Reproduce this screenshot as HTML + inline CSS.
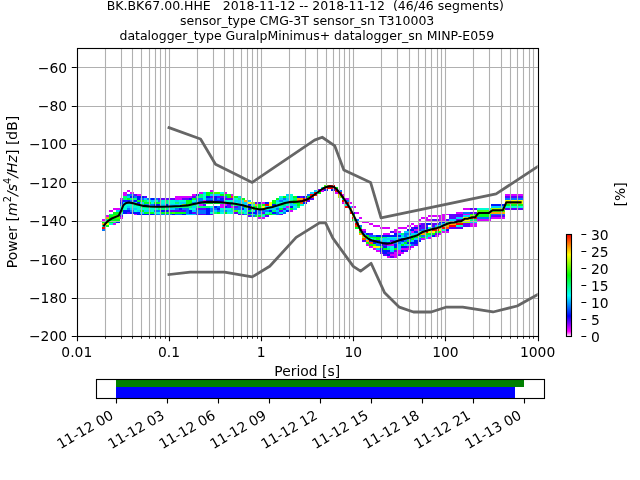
<!DOCTYPE html><html><head><meta charset="utf-8"><title>PPSD BK.BK67.00.HHE</title>
<style>html,body{margin:0;padding:0;background:#fff;overflow:hidden}svg{display:block}text{font-family:"DejaVu Sans","Liberation Sans",sans-serif;fill:#000}</style></head><body>
<svg width="640" height="480" viewBox="0 0 640 480">
<rect width="640" height="480" fill="#fff"/>
<g shape-rendering="crispEdges">
<rect x="102.30" y="219.28" width="3.52" height="1.97" fill="#d900ff"/>
<rect x="102.30" y="221.20" width="3.52" height="1.97" fill="#00ff1a"/>
<rect x="102.30" y="223.12" width="3.52" height="1.97" fill="#ffa600"/>
<rect x="102.30" y="225.04" width="3.52" height="1.97" fill="#00ffd3"/>
<rect x="102.30" y="226.96" width="3.52" height="1.97" fill="#ff0000"/>
<rect x="102.30" y="228.88" width="3.52" height="1.97" fill="#0073ff"/>
<rect x="105.77" y="215.44" width="3.52" height="1.97" fill="#d900ff"/>
<rect x="105.77" y="217.36" width="3.52" height="1.97" fill="#ffa600"/>
<rect x="105.77" y="219.28" width="3.52" height="1.97" fill="#00ff76"/>
<rect x="105.77" y="221.20" width="3.52" height="1.97" fill="#00ff1a"/>
<rect x="105.77" y="223.12" width="3.52" height="1.97" fill="#fbff00"/>
<rect x="105.77" y="225.04" width="3.52" height="1.97" fill="#00ff1a"/>
<rect x="109.24" y="209.68" width="3.52" height="1.97" fill="#d900ff"/>
<rect x="109.24" y="211.60" width="3.52" height="1.97" fill="#ffffff"/>
<rect x="109.24" y="213.52" width="3.52" height="1.97" fill="#00ff76"/>
<rect x="109.24" y="215.44" width="3.52" height="1.97" fill="#00ff1a"/>
<rect x="109.24" y="217.36" width="3.52" height="1.97" fill="#00ff1a"/>
<rect x="109.24" y="219.28" width="3.52" height="1.97" fill="#00ff1a"/>
<rect x="109.24" y="221.20" width="3.52" height="1.97" fill="#00ff1a"/>
<rect x="109.24" y="223.12" width="3.52" height="1.97" fill="#00ffd3"/>
<rect x="112.70" y="207.76" width="3.52" height="1.97" fill="#d900ff"/>
<rect x="112.70" y="209.68" width="3.52" height="1.97" fill="#ffffff"/>
<rect x="112.70" y="211.60" width="3.52" height="1.97" fill="#00ff1a"/>
<rect x="112.70" y="213.52" width="3.52" height="1.97" fill="#00ff1a"/>
<rect x="112.70" y="215.44" width="3.52" height="1.97" fill="#43ff00"/>
<rect x="112.70" y="217.36" width="3.52" height="1.97" fill="#00ff1a"/>
<rect x="112.70" y="219.28" width="3.52" height="1.97" fill="#00ff1a"/>
<rect x="112.70" y="221.20" width="3.52" height="1.97" fill="#00ff76"/>
<rect x="112.70" y="223.12" width="3.52" height="1.97" fill="#d900ff"/>
<rect x="116.17" y="207.76" width="3.52" height="1.97" fill="#d900ff"/>
<rect x="116.17" y="209.68" width="3.52" height="1.97" fill="#00cfff"/>
<rect x="116.17" y="211.60" width="3.52" height="1.97" fill="#00ff1a"/>
<rect x="116.17" y="213.52" width="3.52" height="1.97" fill="#00ff1a"/>
<rect x="116.17" y="215.44" width="3.52" height="1.97" fill="#43ff00"/>
<rect x="116.17" y="217.36" width="3.52" height="1.97" fill="#43ff00"/>
<rect x="116.17" y="219.28" width="3.52" height="1.97" fill="#00ff1a"/>
<rect x="116.17" y="221.20" width="3.52" height="1.97" fill="#0016ff"/>
<rect x="119.64" y="198.16" width="3.52" height="1.97" fill="#d900ff"/>
<rect x="119.64" y="200.08" width="3.52" height="1.97" fill="#5e00ff"/>
<rect x="119.64" y="202.00" width="3.52" height="1.97" fill="#0016ff"/>
<rect x="119.64" y="203.92" width="3.52" height="1.97" fill="#0073ff"/>
<rect x="119.64" y="205.84" width="3.52" height="1.97" fill="#00ffd3"/>
<rect x="119.64" y="207.76" width="3.52" height="1.97" fill="#00ffd3"/>
<rect x="119.64" y="209.68" width="3.52" height="1.97" fill="#00ff1a"/>
<rect x="119.64" y="211.60" width="3.52" height="1.97" fill="#00ffd3"/>
<rect x="119.64" y="213.52" width="3.52" height="1.97" fill="#00cfff"/>
<rect x="119.64" y="215.44" width="3.52" height="1.97" fill="#5e00ff"/>
<rect x="119.64" y="217.36" width="3.52" height="1.97" fill="#d900ff"/>
<rect x="123.11" y="192.40" width="3.52" height="1.97" fill="#d900ff"/>
<rect x="123.11" y="194.32" width="3.52" height="1.97" fill="#d900ff"/>
<rect x="123.11" y="196.24" width="3.52" height="1.97" fill="#00ff76"/>
<rect x="123.11" y="198.16" width="3.52" height="1.97" fill="#00ff76"/>
<rect x="123.11" y="200.08" width="3.52" height="1.97" fill="#0016ff"/>
<rect x="123.11" y="202.00" width="3.52" height="1.97" fill="#00cfff"/>
<rect x="123.11" y="203.92" width="3.52" height="1.97" fill="#00ffd3"/>
<rect x="123.11" y="205.84" width="3.52" height="1.97" fill="#00ffd3"/>
<rect x="123.11" y="207.76" width="3.52" height="1.97" fill="#00ffd3"/>
<rect x="123.11" y="209.68" width="3.52" height="1.97" fill="#0016ff"/>
<rect x="123.11" y="211.60" width="3.52" height="1.97" fill="#0016ff"/>
<rect x="126.58" y="190.48" width="3.52" height="1.97" fill="#d900ff"/>
<rect x="126.58" y="192.40" width="3.52" height="1.97" fill="#ffffff"/>
<rect x="126.58" y="194.32" width="3.52" height="1.97" fill="#0073ff"/>
<rect x="126.58" y="196.24" width="3.52" height="1.97" fill="#00cfff"/>
<rect x="126.58" y="198.16" width="3.52" height="1.97" fill="#00ff1a"/>
<rect x="126.58" y="200.08" width="3.52" height="1.97" fill="#0016ff"/>
<rect x="126.58" y="202.00" width="3.52" height="1.97" fill="#00ffd3"/>
<rect x="126.58" y="203.92" width="3.52" height="1.97" fill="#00ffd3"/>
<rect x="126.58" y="205.84" width="3.52" height="1.97" fill="#00cfff"/>
<rect x="126.58" y="207.76" width="3.52" height="1.97" fill="#0073ff"/>
<rect x="126.58" y="209.68" width="3.52" height="1.97" fill="#0016ff"/>
<rect x="126.58" y="211.60" width="3.52" height="1.97" fill="#5e00ff"/>
<rect x="130.04" y="192.40" width="3.52" height="1.97" fill="#d900ff"/>
<rect x="130.04" y="194.32" width="3.52" height="1.97" fill="#0073ff"/>
<rect x="130.04" y="196.24" width="3.52" height="1.97" fill="#0016ff"/>
<rect x="130.04" y="198.16" width="3.52" height="1.97" fill="#00ff76"/>
<rect x="130.04" y="200.08" width="3.52" height="1.97" fill="#0073ff"/>
<rect x="130.04" y="202.00" width="3.52" height="1.97" fill="#00ffd3"/>
<rect x="130.04" y="203.92" width="3.52" height="1.97" fill="#00ffd3"/>
<rect x="130.04" y="205.84" width="3.52" height="1.97" fill="#00ffd3"/>
<rect x="130.04" y="207.76" width="3.52" height="1.97" fill="#00cfff"/>
<rect x="130.04" y="209.68" width="3.52" height="1.97" fill="#0073ff"/>
<rect x="130.04" y="211.60" width="3.52" height="1.97" fill="#0016ff"/>
<rect x="133.51" y="194.32" width="3.52" height="1.97" fill="#5e00ff"/>
<rect x="133.51" y="196.24" width="3.52" height="1.97" fill="#0073ff"/>
<rect x="133.51" y="198.16" width="3.52" height="1.97" fill="#00ff76"/>
<rect x="133.51" y="200.08" width="3.52" height="1.97" fill="#0016ff"/>
<rect x="133.51" y="202.00" width="3.52" height="1.97" fill="#00ffd3"/>
<rect x="133.51" y="203.92" width="3.52" height="1.97" fill="#00ff76"/>
<rect x="133.51" y="205.84" width="3.52" height="1.97" fill="#00ffd3"/>
<rect x="133.51" y="207.76" width="3.52" height="1.97" fill="#00cfff"/>
<rect x="133.51" y="209.68" width="3.52" height="1.97" fill="#00ffd3"/>
<rect x="133.51" y="211.60" width="3.52" height="1.97" fill="#0016ff"/>
<rect x="133.51" y="213.52" width="3.52" height="1.97" fill="#d900ff"/>
<rect x="136.98" y="194.32" width="3.52" height="1.97" fill="#d900ff"/>
<rect x="136.98" y="196.24" width="3.52" height="1.97" fill="#0016ff"/>
<rect x="136.98" y="198.16" width="3.52" height="1.97" fill="#0016ff"/>
<rect x="136.98" y="200.08" width="3.52" height="1.97" fill="#00ff1a"/>
<rect x="136.98" y="202.00" width="3.52" height="1.97" fill="#0016ff"/>
<rect x="136.98" y="203.92" width="3.52" height="1.97" fill="#00ff76"/>
<rect x="136.98" y="205.84" width="3.52" height="1.97" fill="#00ffd3"/>
<rect x="136.98" y="207.76" width="3.52" height="1.97" fill="#00ffd3"/>
<rect x="136.98" y="209.68" width="3.52" height="1.97" fill="#00cfff"/>
<rect x="136.98" y="211.60" width="3.52" height="1.97" fill="#0016ff"/>
<rect x="136.98" y="213.52" width="3.52" height="1.97" fill="#0016ff"/>
<rect x="140.45" y="196.24" width="3.52" height="1.97" fill="#0016ff"/>
<rect x="140.45" y="198.16" width="3.52" height="1.97" fill="#0073ff"/>
<rect x="140.45" y="200.08" width="3.52" height="1.97" fill="#00ff1a"/>
<rect x="140.45" y="202.00" width="3.52" height="1.97" fill="#00cfff"/>
<rect x="140.45" y="203.92" width="3.52" height="1.97" fill="#00ff76"/>
<rect x="140.45" y="205.84" width="3.52" height="1.97" fill="#00ff76"/>
<rect x="140.45" y="207.76" width="3.52" height="1.97" fill="#00ffd3"/>
<rect x="140.45" y="209.68" width="3.52" height="1.97" fill="#00ff1a"/>
<rect x="140.45" y="211.60" width="3.52" height="1.97" fill="#00cfff"/>
<rect x="140.45" y="213.52" width="3.52" height="1.97" fill="#0016ff"/>
<rect x="143.92" y="196.24" width="3.52" height="1.97" fill="#5e00ff"/>
<rect x="143.92" y="198.16" width="3.52" height="1.97" fill="#00cfff"/>
<rect x="143.92" y="200.08" width="3.52" height="1.97" fill="#00ff76"/>
<rect x="143.92" y="202.00" width="3.52" height="1.97" fill="#00ff1a"/>
<rect x="143.92" y="203.92" width="3.52" height="1.97" fill="#0073ff"/>
<rect x="143.92" y="205.84" width="3.52" height="1.97" fill="#00ff76"/>
<rect x="143.92" y="207.76" width="3.52" height="1.97" fill="#00ffd3"/>
<rect x="143.92" y="209.68" width="3.52" height="1.97" fill="#00cfff"/>
<rect x="143.92" y="211.60" width="3.52" height="1.97" fill="#00ff1a"/>
<rect x="143.92" y="213.52" width="3.52" height="1.97" fill="#0016ff"/>
<rect x="147.38" y="198.16" width="3.52" height="1.97" fill="#0073ff"/>
<rect x="147.38" y="200.08" width="3.52" height="1.97" fill="#00ffd3"/>
<rect x="147.38" y="202.00" width="3.52" height="1.97" fill="#00ff1a"/>
<rect x="147.38" y="203.92" width="3.52" height="1.97" fill="#0073ff"/>
<rect x="147.38" y="205.84" width="3.52" height="1.97" fill="#00ff76"/>
<rect x="147.38" y="207.76" width="3.52" height="1.97" fill="#00ffd3"/>
<rect x="147.38" y="209.68" width="3.52" height="1.97" fill="#00cfff"/>
<rect x="147.38" y="211.60" width="3.52" height="1.97" fill="#00ff1a"/>
<rect x="147.38" y="213.52" width="3.52" height="1.97" fill="#0016ff"/>
<rect x="150.85" y="198.16" width="3.52" height="1.97" fill="#0016ff"/>
<rect x="150.85" y="200.08" width="3.52" height="1.97" fill="#00cfff"/>
<rect x="150.85" y="202.00" width="3.52" height="1.97" fill="#00ffd3"/>
<rect x="150.85" y="203.92" width="3.52" height="1.97" fill="#0073ff"/>
<rect x="150.85" y="205.84" width="3.52" height="1.97" fill="#00ff76"/>
<rect x="150.85" y="207.76" width="3.52" height="1.97" fill="#00ffd3"/>
<rect x="150.85" y="209.68" width="3.52" height="1.97" fill="#00ffd3"/>
<rect x="150.85" y="211.60" width="3.52" height="1.97" fill="#00ff1a"/>
<rect x="150.85" y="213.52" width="3.52" height="1.97" fill="#0016ff"/>
<rect x="154.32" y="198.16" width="3.52" height="1.97" fill="#0073ff"/>
<rect x="154.32" y="200.08" width="3.52" height="1.97" fill="#00ffd3"/>
<rect x="154.32" y="202.00" width="3.52" height="1.97" fill="#00ff1a"/>
<rect x="154.32" y="203.92" width="3.52" height="1.97" fill="#0016ff"/>
<rect x="154.32" y="205.84" width="3.52" height="1.97" fill="#00ff76"/>
<rect x="154.32" y="207.76" width="3.52" height="1.97" fill="#00ffd3"/>
<rect x="154.32" y="209.68" width="3.52" height="1.97" fill="#0073ff"/>
<rect x="154.32" y="211.60" width="3.52" height="1.97" fill="#00ffd3"/>
<rect x="154.32" y="213.52" width="3.52" height="1.97" fill="#0073ff"/>
<rect x="157.79" y="198.16" width="3.52" height="1.97" fill="#5e00ff"/>
<rect x="157.79" y="200.08" width="3.52" height="1.97" fill="#0073ff"/>
<rect x="157.79" y="202.00" width="3.52" height="1.97" fill="#00ff1a"/>
<rect x="157.79" y="203.92" width="3.52" height="1.97" fill="#0016ff"/>
<rect x="157.79" y="205.84" width="3.52" height="1.97" fill="#00ff76"/>
<rect x="157.79" y="207.76" width="3.52" height="1.97" fill="#00ff76"/>
<rect x="157.79" y="209.68" width="3.52" height="1.97" fill="#0073ff"/>
<rect x="157.79" y="211.60" width="3.52" height="1.97" fill="#00ffd3"/>
<rect x="157.79" y="213.52" width="3.52" height="1.97" fill="#0073ff"/>
<rect x="161.26" y="198.16" width="3.52" height="1.97" fill="#5e00ff"/>
<rect x="161.26" y="200.08" width="3.52" height="1.97" fill="#00ffd3"/>
<rect x="161.26" y="202.00" width="3.52" height="1.97" fill="#00ffd3"/>
<rect x="161.26" y="203.92" width="3.52" height="1.97" fill="#00cfff"/>
<rect x="161.26" y="205.84" width="3.52" height="1.97" fill="#00ff76"/>
<rect x="161.26" y="207.76" width="3.52" height="1.97" fill="#00ff76"/>
<rect x="161.26" y="209.68" width="3.52" height="1.97" fill="#0016ff"/>
<rect x="161.26" y="211.60" width="3.52" height="1.97" fill="#00ff1a"/>
<rect x="161.26" y="213.52" width="3.52" height="1.97" fill="#0073ff"/>
<rect x="164.72" y="198.16" width="3.52" height="1.97" fill="#5e00ff"/>
<rect x="164.72" y="200.08" width="3.52" height="1.97" fill="#00ff76"/>
<rect x="164.72" y="202.00" width="3.52" height="1.97" fill="#00ff76"/>
<rect x="164.72" y="203.92" width="3.52" height="1.97" fill="#0016ff"/>
<rect x="164.72" y="205.84" width="3.52" height="1.97" fill="#00ff76"/>
<rect x="164.72" y="207.76" width="3.52" height="1.97" fill="#00ff76"/>
<rect x="164.72" y="209.68" width="3.52" height="1.97" fill="#0016ff"/>
<rect x="164.72" y="211.60" width="3.52" height="1.97" fill="#00ff1a"/>
<rect x="164.72" y="213.52" width="3.52" height="1.97" fill="#0073ff"/>
<rect x="168.19" y="198.16" width="3.52" height="1.97" fill="#5e00ff"/>
<rect x="168.19" y="200.08" width="3.52" height="1.97" fill="#00ffd3"/>
<rect x="168.19" y="202.00" width="3.52" height="1.97" fill="#00ffd3"/>
<rect x="168.19" y="203.92" width="3.52" height="1.97" fill="#00cfff"/>
<rect x="168.19" y="205.84" width="3.52" height="1.97" fill="#00ff76"/>
<rect x="168.19" y="207.76" width="3.52" height="1.97" fill="#00cfff"/>
<rect x="168.19" y="209.68" width="3.52" height="1.97" fill="#5e00ff"/>
<rect x="168.19" y="211.60" width="3.52" height="1.97" fill="#00ff1a"/>
<rect x="168.19" y="213.52" width="3.52" height="1.97" fill="#0073ff"/>
<rect x="171.66" y="198.16" width="3.52" height="1.97" fill="#5e00ff"/>
<rect x="171.66" y="200.08" width="3.52" height="1.97" fill="#00ffd3"/>
<rect x="171.66" y="202.00" width="3.52" height="1.97" fill="#00ffd3"/>
<rect x="171.66" y="203.92" width="3.52" height="1.97" fill="#00cfff"/>
<rect x="171.66" y="205.84" width="3.52" height="1.97" fill="#00ff76"/>
<rect x="171.66" y="207.76" width="3.52" height="1.97" fill="#00cfff"/>
<rect x="171.66" y="209.68" width="3.52" height="1.97" fill="#5e00ff"/>
<rect x="171.66" y="211.60" width="3.52" height="1.97" fill="#43ff00"/>
<rect x="171.66" y="213.52" width="3.52" height="1.97" fill="#0016ff"/>
<rect x="175.13" y="196.24" width="3.52" height="1.97" fill="#d900ff"/>
<rect x="175.13" y="198.16" width="3.52" height="1.97" fill="#d900ff"/>
<rect x="175.13" y="200.08" width="3.52" height="1.97" fill="#00cfff"/>
<rect x="175.13" y="202.00" width="3.52" height="1.97" fill="#00ff76"/>
<rect x="175.13" y="203.92" width="3.52" height="1.97" fill="#00cfff"/>
<rect x="175.13" y="205.84" width="3.52" height="1.97" fill="#00ff76"/>
<rect x="175.13" y="207.76" width="3.52" height="1.97" fill="#0073ff"/>
<rect x="175.13" y="209.68" width="3.52" height="1.97" fill="#5e00ff"/>
<rect x="175.13" y="211.60" width="3.52" height="1.97" fill="#00ff1a"/>
<rect x="175.13" y="213.52" width="3.52" height="1.97" fill="#0073ff"/>
<rect x="178.60" y="196.24" width="3.52" height="1.97" fill="#d900ff"/>
<rect x="178.60" y="198.16" width="3.52" height="1.97" fill="#d900ff"/>
<rect x="178.60" y="200.08" width="3.52" height="1.97" fill="#00ffd3"/>
<rect x="178.60" y="202.00" width="3.52" height="1.97" fill="#00cfff"/>
<rect x="178.60" y="203.92" width="3.52" height="1.97" fill="#00ffd3"/>
<rect x="178.60" y="205.84" width="3.52" height="1.97" fill="#00ff76"/>
<rect x="178.60" y="207.76" width="3.52" height="1.97" fill="#0016ff"/>
<rect x="178.60" y="209.68" width="3.52" height="1.97" fill="#5e00ff"/>
<rect x="178.60" y="211.60" width="3.52" height="1.97" fill="#00ff1a"/>
<rect x="178.60" y="213.52" width="3.52" height="1.97" fill="#0073ff"/>
<rect x="182.06" y="196.24" width="3.52" height="1.97" fill="#d900ff"/>
<rect x="182.06" y="198.16" width="3.52" height="1.97" fill="#5e00ff"/>
<rect x="182.06" y="200.08" width="3.52" height="1.97" fill="#00ffd3"/>
<rect x="182.06" y="202.00" width="3.52" height="1.97" fill="#00cfff"/>
<rect x="182.06" y="203.92" width="3.52" height="1.97" fill="#9fff00"/>
<rect x="182.06" y="205.84" width="3.52" height="1.97" fill="#00ff76"/>
<rect x="182.06" y="207.76" width="3.52" height="1.97" fill="#0073ff"/>
<rect x="182.06" y="209.68" width="3.52" height="1.97" fill="#5e00ff"/>
<rect x="182.06" y="211.60" width="3.52" height="1.97" fill="#00ff1a"/>
<rect x="182.06" y="213.52" width="3.52" height="1.97" fill="#0016ff"/>
<rect x="185.53" y="196.24" width="3.52" height="1.97" fill="#d900ff"/>
<rect x="185.53" y="198.16" width="3.52" height="1.97" fill="#5e00ff"/>
<rect x="185.53" y="200.08" width="3.52" height="1.97" fill="#00ff1a"/>
<rect x="185.53" y="202.00" width="3.52" height="1.97" fill="#00ff1a"/>
<rect x="185.53" y="203.92" width="3.52" height="1.97" fill="#00ff1a"/>
<rect x="185.53" y="205.84" width="3.52" height="1.97" fill="#00ff76"/>
<rect x="185.53" y="207.76" width="3.52" height="1.97" fill="#0073ff"/>
<rect x="185.53" y="209.68" width="3.52" height="1.97" fill="#0073ff"/>
<rect x="185.53" y="211.60" width="3.52" height="1.97" fill="#0073ff"/>
<rect x="185.53" y="213.52" width="3.52" height="1.97" fill="#00cfff"/>
<rect x="189.00" y="196.24" width="3.52" height="1.97" fill="#d900ff"/>
<rect x="189.00" y="198.16" width="3.52" height="1.97" fill="#0016ff"/>
<rect x="189.00" y="200.08" width="3.52" height="1.97" fill="#00ff1a"/>
<rect x="189.00" y="202.00" width="3.52" height="1.97" fill="#00ff1a"/>
<rect x="189.00" y="203.92" width="3.52" height="1.97" fill="#00ff76"/>
<rect x="189.00" y="205.84" width="3.52" height="1.97" fill="#00ff76"/>
<rect x="189.00" y="207.76" width="3.52" height="1.97" fill="#00ffd3"/>
<rect x="189.00" y="209.68" width="3.52" height="1.97" fill="#0016ff"/>
<rect x="189.00" y="211.60" width="3.52" height="1.97" fill="#0016ff"/>
<rect x="189.00" y="213.52" width="3.52" height="1.97" fill="#00cfff"/>
<rect x="192.47" y="194.32" width="3.52" height="1.97" fill="#d900ff"/>
<rect x="192.47" y="196.24" width="3.52" height="1.97" fill="#5e00ff"/>
<rect x="192.47" y="198.16" width="3.52" height="1.97" fill="#00ff1a"/>
<rect x="192.47" y="200.08" width="3.52" height="1.97" fill="#00ffd3"/>
<rect x="192.47" y="202.00" width="3.52" height="1.97" fill="#0073ff"/>
<rect x="192.47" y="203.92" width="3.52" height="1.97" fill="#00ff76"/>
<rect x="192.47" y="205.84" width="3.52" height="1.97" fill="#00cfff"/>
<rect x="192.47" y="207.76" width="3.52" height="1.97" fill="#00ffd3"/>
<rect x="192.47" y="209.68" width="3.52" height="1.97" fill="#00cfff"/>
<rect x="192.47" y="211.60" width="3.52" height="1.97" fill="#5e00ff"/>
<rect x="192.47" y="213.52" width="3.52" height="1.97" fill="#00cfff"/>
<rect x="195.94" y="194.32" width="3.52" height="1.97" fill="#0016ff"/>
<rect x="195.94" y="196.24" width="3.52" height="1.97" fill="#00ff76"/>
<rect x="195.94" y="198.16" width="3.52" height="1.97" fill="#0073ff"/>
<rect x="195.94" y="200.08" width="3.52" height="1.97" fill="#0073ff"/>
<rect x="195.94" y="202.00" width="3.52" height="1.97" fill="#00ffd3"/>
<rect x="195.94" y="203.92" width="3.52" height="1.97" fill="#00ffd3"/>
<rect x="195.94" y="205.84" width="3.52" height="1.97" fill="#00ff76"/>
<rect x="195.94" y="207.76" width="3.52" height="1.97" fill="#5e00ff"/>
<rect x="195.94" y="209.68" width="3.52" height="1.97" fill="#0073ff"/>
<rect x="195.94" y="211.60" width="3.52" height="1.97" fill="#0073ff"/>
<rect x="195.94" y="213.52" width="3.52" height="1.97" fill="#5e00ff"/>
<rect x="199.40" y="192.40" width="3.52" height="1.97" fill="#d900ff"/>
<rect x="199.40" y="194.32" width="3.52" height="1.97" fill="#00ff76"/>
<rect x="199.40" y="196.24" width="3.52" height="1.97" fill="#00ff76"/>
<rect x="199.40" y="198.16" width="3.52" height="1.97" fill="#0073ff"/>
<rect x="199.40" y="200.08" width="3.52" height="1.97" fill="#0073ff"/>
<rect x="199.40" y="202.00" width="3.52" height="1.97" fill="#00ffd3"/>
<rect x="199.40" y="203.92" width="3.52" height="1.97" fill="#d900ff"/>
<rect x="199.40" y="205.84" width="3.52" height="1.97" fill="#00ff76"/>
<rect x="199.40" y="207.76" width="3.52" height="1.97" fill="#5e00ff"/>
<rect x="199.40" y="209.68" width="3.52" height="1.97" fill="#0073ff"/>
<rect x="199.40" y="211.60" width="3.52" height="1.97" fill="#0073ff"/>
<rect x="199.40" y="213.52" width="3.52" height="1.97" fill="#5e00ff"/>
<rect x="202.87" y="192.40" width="3.52" height="1.97" fill="#00cfff"/>
<rect x="202.87" y="194.32" width="3.52" height="1.97" fill="#00ffd3"/>
<rect x="202.87" y="196.24" width="3.52" height="1.97" fill="#00ffd3"/>
<rect x="202.87" y="198.16" width="3.52" height="1.97" fill="#00ffd3"/>
<rect x="202.87" y="200.08" width="3.52" height="1.97" fill="#d900ff"/>
<rect x="202.87" y="202.00" width="3.52" height="1.97" fill="#00ff76"/>
<rect x="202.87" y="203.92" width="3.52" height="1.97" fill="#5e00ff"/>
<rect x="202.87" y="205.84" width="3.52" height="1.97" fill="#00ff76"/>
<rect x="202.87" y="207.76" width="3.52" height="1.97" fill="#5e00ff"/>
<rect x="202.87" y="209.68" width="3.52" height="1.97" fill="#0073ff"/>
<rect x="202.87" y="211.60" width="3.52" height="1.97" fill="#0073ff"/>
<rect x="202.87" y="213.52" width="3.52" height="1.97" fill="#5e00ff"/>
<rect x="206.34" y="192.40" width="3.52" height="1.97" fill="#00ff1a"/>
<rect x="206.34" y="194.32" width="3.52" height="1.97" fill="#00ff1a"/>
<rect x="206.34" y="196.24" width="3.52" height="1.97" fill="#0016ff"/>
<rect x="206.34" y="198.16" width="3.52" height="1.97" fill="#0073ff"/>
<rect x="206.34" y="200.08" width="3.52" height="1.97" fill="#0016ff"/>
<rect x="206.34" y="202.00" width="3.52" height="1.97" fill="#00ff1a"/>
<rect x="206.34" y="203.92" width="3.52" height="1.97" fill="#ffffff"/>
<rect x="206.34" y="205.84" width="3.52" height="1.97" fill="#00ff76"/>
<rect x="206.34" y="207.76" width="3.52" height="1.97" fill="#0016ff"/>
<rect x="206.34" y="209.68" width="3.52" height="1.97" fill="#0016ff"/>
<rect x="206.34" y="211.60" width="3.52" height="1.97" fill="#0016ff"/>
<rect x="206.34" y="213.52" width="3.52" height="1.97" fill="#0016ff"/>
<rect x="209.81" y="190.48" width="3.52" height="1.97" fill="#d900ff"/>
<rect x="209.81" y="192.40" width="3.52" height="1.97" fill="#00ff1a"/>
<rect x="209.81" y="194.32" width="3.52" height="1.97" fill="#00cfff"/>
<rect x="209.81" y="196.24" width="3.52" height="1.97" fill="#5e00ff"/>
<rect x="209.81" y="198.16" width="3.52" height="1.97" fill="#0073ff"/>
<rect x="209.81" y="200.08" width="3.52" height="1.97" fill="#0016ff"/>
<rect x="209.81" y="202.00" width="3.52" height="1.97" fill="#00ff1a"/>
<rect x="209.81" y="203.92" width="3.52" height="1.97" fill="#ffffff"/>
<rect x="209.81" y="205.84" width="3.52" height="1.97" fill="#00ffd3"/>
<rect x="209.81" y="207.76" width="3.52" height="1.97" fill="#0073ff"/>
<rect x="209.81" y="209.68" width="3.52" height="1.97" fill="#0073ff"/>
<rect x="209.81" y="211.60" width="3.52" height="1.97" fill="#00ffd3"/>
<rect x="209.81" y="213.52" width="3.52" height="1.97" fill="#5e00ff"/>
<rect x="213.28" y="192.40" width="3.52" height="1.97" fill="#43ff00"/>
<rect x="213.28" y="194.32" width="3.52" height="1.97" fill="#00cfff"/>
<rect x="213.28" y="196.24" width="3.52" height="1.97" fill="#0016ff"/>
<rect x="213.28" y="198.16" width="3.52" height="1.97" fill="#0016ff"/>
<rect x="213.28" y="200.08" width="3.52" height="1.97" fill="#0016ff"/>
<rect x="213.28" y="202.00" width="3.52" height="1.97" fill="#00ff1a"/>
<rect x="213.28" y="203.92" width="3.52" height="1.97" fill="#ffffff"/>
<rect x="213.28" y="205.84" width="3.52" height="1.97" fill="#0016ff"/>
<rect x="213.28" y="207.76" width="3.52" height="1.97" fill="#0073ff"/>
<rect x="213.28" y="209.68" width="3.52" height="1.97" fill="#00cfff"/>
<rect x="213.28" y="211.60" width="3.52" height="1.97" fill="#00ff76"/>
<rect x="216.74" y="192.40" width="3.52" height="1.97" fill="#43ff00"/>
<rect x="216.74" y="194.32" width="3.52" height="1.97" fill="#00cfff"/>
<rect x="216.74" y="196.24" width="3.52" height="1.97" fill="#5e00ff"/>
<rect x="216.74" y="198.16" width="3.52" height="1.97" fill="#0073ff"/>
<rect x="216.74" y="200.08" width="3.52" height="1.97" fill="#0016ff"/>
<rect x="216.74" y="202.00" width="3.52" height="1.97" fill="#00ff1a"/>
<rect x="216.74" y="203.92" width="3.52" height="1.97" fill="#ffffff"/>
<rect x="216.74" y="205.84" width="3.52" height="1.97" fill="#0073ff"/>
<rect x="216.74" y="207.76" width="3.52" height="1.97" fill="#0016ff"/>
<rect x="216.74" y="209.68" width="3.52" height="1.97" fill="#0073ff"/>
<rect x="216.74" y="211.60" width="3.52" height="1.97" fill="#00ff1a"/>
<rect x="220.21" y="192.40" width="3.52" height="1.97" fill="#00ffd3"/>
<rect x="220.21" y="194.32" width="3.52" height="1.97" fill="#00ff1a"/>
<rect x="220.21" y="196.24" width="3.52" height="1.97" fill="#5e00ff"/>
<rect x="220.21" y="198.16" width="3.52" height="1.97" fill="#0016ff"/>
<rect x="220.21" y="200.08" width="3.52" height="1.97" fill="#0016ff"/>
<rect x="220.21" y="202.00" width="3.52" height="1.97" fill="#00ff76"/>
<rect x="220.21" y="203.92" width="3.52" height="1.97" fill="#d900ff"/>
<rect x="220.21" y="205.84" width="3.52" height="1.97" fill="#d900ff"/>
<rect x="220.21" y="207.76" width="3.52" height="1.97" fill="#00ffd3"/>
<rect x="220.21" y="209.68" width="3.52" height="1.97" fill="#00cfff"/>
<rect x="220.21" y="211.60" width="3.52" height="1.97" fill="#00ffd3"/>
<rect x="223.68" y="192.40" width="3.52" height="1.97" fill="#d900ff"/>
<rect x="223.68" y="194.32" width="3.52" height="1.97" fill="#00ff1a"/>
<rect x="223.68" y="196.24" width="3.52" height="1.97" fill="#0073ff"/>
<rect x="223.68" y="198.16" width="3.52" height="1.97" fill="#5e00ff"/>
<rect x="223.68" y="200.08" width="3.52" height="1.97" fill="#00ffd3"/>
<rect x="223.68" y="202.00" width="3.52" height="1.97" fill="#00ff76"/>
<rect x="223.68" y="203.92" width="3.52" height="1.97" fill="#d900ff"/>
<rect x="223.68" y="205.84" width="3.52" height="1.97" fill="#0016ff"/>
<rect x="223.68" y="207.76" width="3.52" height="1.97" fill="#00ffd3"/>
<rect x="223.68" y="209.68" width="3.52" height="1.97" fill="#0073ff"/>
<rect x="223.68" y="211.60" width="3.52" height="1.97" fill="#00ff1a"/>
<rect x="227.15" y="194.32" width="3.52" height="1.97" fill="#00ff1a"/>
<rect x="227.15" y="196.24" width="3.52" height="1.97" fill="#00ff1a"/>
<rect x="227.15" y="198.16" width="3.52" height="1.97" fill="#5e00ff"/>
<rect x="227.15" y="200.08" width="3.52" height="1.97" fill="#00ffd3"/>
<rect x="227.15" y="202.00" width="3.52" height="1.97" fill="#00ff76"/>
<rect x="227.15" y="203.92" width="3.52" height="1.97" fill="#5e00ff"/>
<rect x="227.15" y="205.84" width="3.52" height="1.97" fill="#5e00ff"/>
<rect x="227.15" y="207.76" width="3.52" height="1.97" fill="#00ffd3"/>
<rect x="227.15" y="209.68" width="3.52" height="1.97" fill="#00cfff"/>
<rect x="227.15" y="211.60" width="3.52" height="1.97" fill="#00ffd3"/>
<rect x="230.62" y="194.32" width="3.52" height="1.97" fill="#d900ff"/>
<rect x="230.62" y="196.24" width="3.52" height="1.97" fill="#ff4a00"/>
<rect x="230.62" y="198.16" width="3.52" height="1.97" fill="#5e00ff"/>
<rect x="230.62" y="200.08" width="3.52" height="1.97" fill="#00ffd3"/>
<rect x="230.62" y="202.00" width="3.52" height="1.97" fill="#0073ff"/>
<rect x="230.62" y="203.92" width="3.52" height="1.97" fill="#00ff76"/>
<rect x="230.62" y="205.84" width="3.52" height="1.97" fill="#d900ff"/>
<rect x="230.62" y="207.76" width="3.52" height="1.97" fill="#00ff76"/>
<rect x="230.62" y="209.68" width="3.52" height="1.97" fill="#00cfff"/>
<rect x="230.62" y="211.60" width="3.52" height="1.97" fill="#00ffd3"/>
<rect x="234.08" y="196.24" width="3.52" height="1.97" fill="#00ff1a"/>
<rect x="234.08" y="198.16" width="3.52" height="1.97" fill="#00ffd3"/>
<rect x="234.08" y="200.08" width="3.52" height="1.97" fill="#00cfff"/>
<rect x="234.08" y="202.00" width="3.52" height="1.97" fill="#00ffd3"/>
<rect x="234.08" y="203.92" width="3.52" height="1.97" fill="#00ff76"/>
<rect x="234.08" y="205.84" width="3.52" height="1.97" fill="#5e00ff"/>
<rect x="234.08" y="207.76" width="3.52" height="1.97" fill="#0073ff"/>
<rect x="234.08" y="209.68" width="3.52" height="1.97" fill="#43ff00"/>
<rect x="234.08" y="211.60" width="3.52" height="1.97" fill="#5e00ff"/>
<rect x="237.55" y="196.24" width="3.52" height="1.97" fill="#00cfff"/>
<rect x="237.55" y="198.16" width="3.52" height="1.97" fill="#00ff76"/>
<rect x="237.55" y="200.08" width="3.52" height="1.97" fill="#00cfff"/>
<rect x="237.55" y="202.00" width="3.52" height="1.97" fill="#00cfff"/>
<rect x="237.55" y="203.92" width="3.52" height="1.97" fill="#00ff76"/>
<rect x="237.55" y="205.84" width="3.52" height="1.97" fill="#0073ff"/>
<rect x="237.55" y="207.76" width="3.52" height="1.97" fill="#0073ff"/>
<rect x="237.55" y="209.68" width="3.52" height="1.97" fill="#00ffd3"/>
<rect x="237.55" y="211.60" width="3.52" height="1.97" fill="#00ff76"/>
<rect x="237.55" y="213.52" width="3.52" height="1.97" fill="#5e00ff"/>
<rect x="241.02" y="198.16" width="3.52" height="1.97" fill="#00ff1a"/>
<rect x="241.02" y="200.08" width="3.52" height="1.97" fill="#00ffd3"/>
<rect x="241.02" y="202.00" width="3.52" height="1.97" fill="#00cfff"/>
<rect x="241.02" y="203.92" width="3.52" height="1.97" fill="#00ff1a"/>
<rect x="241.02" y="205.84" width="3.52" height="1.97" fill="#0073ff"/>
<rect x="241.02" y="207.76" width="3.52" height="1.97" fill="#0016ff"/>
<rect x="241.02" y="209.68" width="3.52" height="1.97" fill="#00ffd3"/>
<rect x="241.02" y="211.60" width="3.52" height="1.97" fill="#00ff76"/>
<rect x="241.02" y="213.52" width="3.52" height="1.97" fill="#5e00ff"/>
<rect x="244.49" y="200.08" width="3.52" height="1.97" fill="#ffa600"/>
<rect x="244.49" y="202.00" width="3.52" height="1.97" fill="#00cfff"/>
<rect x="244.49" y="203.92" width="3.52" height="1.97" fill="#00cfff"/>
<rect x="244.49" y="205.84" width="3.52" height="1.97" fill="#00ff1a"/>
<rect x="244.49" y="207.76" width="3.52" height="1.97" fill="#00cfff"/>
<rect x="244.49" y="209.68" width="3.52" height="1.97" fill="#00cfff"/>
<rect x="244.49" y="211.60" width="3.52" height="1.97" fill="#00ffd3"/>
<rect x="244.49" y="213.52" width="3.52" height="1.97" fill="#0073ff"/>
<rect x="247.96" y="200.08" width="3.52" height="1.97" fill="#00cfff"/>
<rect x="247.96" y="202.00" width="3.52" height="1.97" fill="#fbff00"/>
<rect x="247.96" y="203.92" width="3.52" height="1.97" fill="#0016ff"/>
<rect x="247.96" y="205.84" width="3.52" height="1.97" fill="#00ff76"/>
<rect x="247.96" y="207.76" width="3.52" height="1.97" fill="#0016ff"/>
<rect x="247.96" y="209.68" width="3.52" height="1.97" fill="#00ff1a"/>
<rect x="247.96" y="211.60" width="3.52" height="1.97" fill="#0016ff"/>
<rect x="247.96" y="213.52" width="3.52" height="1.97" fill="#00ff1a"/>
<rect x="247.96" y="215.44" width="3.52" height="1.97" fill="#5e00ff"/>
<rect x="251.42" y="202.00" width="3.52" height="1.97" fill="#9fff00"/>
<rect x="251.42" y="203.92" width="3.52" height="1.97" fill="#00ffd3"/>
<rect x="251.42" y="205.84" width="3.52" height="1.97" fill="#00ff1a"/>
<rect x="251.42" y="207.76" width="3.52" height="1.97" fill="#00ff1a"/>
<rect x="251.42" y="209.68" width="3.52" height="1.97" fill="#00ffd3"/>
<rect x="251.42" y="211.60" width="3.52" height="1.97" fill="#0016ff"/>
<rect x="251.42" y="213.52" width="3.52" height="1.97" fill="#00ffd3"/>
<rect x="251.42" y="215.44" width="3.52" height="1.97" fill="#0073ff"/>
<rect x="254.89" y="202.00" width="3.52" height="1.97" fill="#5e00ff"/>
<rect x="254.89" y="203.92" width="3.52" height="1.97" fill="#ffa600"/>
<rect x="254.89" y="205.84" width="3.52" height="1.97" fill="#00ff1a"/>
<rect x="254.89" y="207.76" width="3.52" height="1.97" fill="#00ff1a"/>
<rect x="254.89" y="209.68" width="3.52" height="1.97" fill="#0016ff"/>
<rect x="254.89" y="211.60" width="3.52" height="1.97" fill="#0016ff"/>
<rect x="254.89" y="213.52" width="3.52" height="1.97" fill="#0073ff"/>
<rect x="254.89" y="215.44" width="3.52" height="1.97" fill="#00ff1a"/>
<rect x="258.36" y="202.00" width="3.52" height="1.97" fill="#5e00ff"/>
<rect x="258.36" y="203.92" width="3.52" height="1.97" fill="#00ff1a"/>
<rect x="258.36" y="205.84" width="3.52" height="1.97" fill="#00ff1a"/>
<rect x="258.36" y="207.76" width="3.52" height="1.97" fill="#00ff1a"/>
<rect x="258.36" y="209.68" width="3.52" height="1.97" fill="#0073ff"/>
<rect x="258.36" y="211.60" width="3.52" height="1.97" fill="#0073ff"/>
<rect x="258.36" y="213.52" width="3.52" height="1.97" fill="#00cfff"/>
<rect x="258.36" y="215.44" width="3.52" height="1.97" fill="#00ff1a"/>
<rect x="258.36" y="217.36" width="3.52" height="1.97" fill="#d900ff"/>
<rect x="261.83" y="202.00" width="3.52" height="1.97" fill="#d900ff"/>
<rect x="261.83" y="203.92" width="3.52" height="1.97" fill="#00ff1a"/>
<rect x="261.83" y="205.84" width="3.52" height="1.97" fill="#fbff00"/>
<rect x="261.83" y="207.76" width="3.52" height="1.97" fill="#00ff1a"/>
<rect x="261.83" y="209.68" width="3.52" height="1.97" fill="#0073ff"/>
<rect x="261.83" y="211.60" width="3.52" height="1.97" fill="#5e00ff"/>
<rect x="261.83" y="213.52" width="3.52" height="1.97" fill="#00ff76"/>
<rect x="261.83" y="215.44" width="3.52" height="1.97" fill="#00ffd3"/>
<rect x="261.83" y="217.36" width="3.52" height="1.97" fill="#d900ff"/>
<rect x="265.30" y="202.00" width="3.52" height="1.97" fill="#0016ff"/>
<rect x="265.30" y="203.92" width="3.52" height="1.97" fill="#ff0000"/>
<rect x="265.30" y="205.84" width="3.52" height="1.97" fill="#00cfff"/>
<rect x="265.30" y="207.76" width="3.52" height="1.97" fill="#00ffd3"/>
<rect x="265.30" y="209.68" width="3.52" height="1.97" fill="#0073ff"/>
<rect x="265.30" y="211.60" width="3.52" height="1.97" fill="#00ffd3"/>
<rect x="265.30" y="213.52" width="3.52" height="1.97" fill="#00ff1a"/>
<rect x="265.30" y="215.44" width="3.52" height="1.97" fill="#5e00ff"/>
<rect x="268.76" y="202.00" width="3.52" height="1.97" fill="#fbff00"/>
<rect x="268.76" y="203.92" width="3.52" height="1.97" fill="#fbff00"/>
<rect x="268.76" y="205.84" width="3.52" height="1.97" fill="#00ffd3"/>
<rect x="268.76" y="207.76" width="3.52" height="1.97" fill="#00cfff"/>
<rect x="268.76" y="209.68" width="3.52" height="1.97" fill="#0016ff"/>
<rect x="268.76" y="211.60" width="3.52" height="1.97" fill="#00ff76"/>
<rect x="268.76" y="213.52" width="3.52" height="1.97" fill="#00ff1a"/>
<rect x="272.23" y="200.08" width="3.52" height="1.97" fill="#00ff1a"/>
<rect x="272.23" y="202.00" width="3.52" height="1.97" fill="#00ff1a"/>
<rect x="272.23" y="203.92" width="3.52" height="1.97" fill="#0016ff"/>
<rect x="272.23" y="205.84" width="3.52" height="1.97" fill="#00ffd3"/>
<rect x="272.23" y="207.76" width="3.52" height="1.97" fill="#00cfff"/>
<rect x="272.23" y="209.68" width="3.52" height="1.97" fill="#00ff76"/>
<rect x="272.23" y="211.60" width="3.52" height="1.97" fill="#0016ff"/>
<rect x="272.23" y="213.52" width="3.52" height="1.97" fill="#00ff76"/>
<rect x="275.70" y="198.16" width="3.52" height="1.97" fill="#00ff1a"/>
<rect x="275.70" y="200.08" width="3.52" height="1.97" fill="#00cfff"/>
<rect x="275.70" y="202.00" width="3.52" height="1.97" fill="#00ffd3"/>
<rect x="275.70" y="203.92" width="3.52" height="1.97" fill="#00ffd3"/>
<rect x="275.70" y="205.84" width="3.52" height="1.97" fill="#00cfff"/>
<rect x="275.70" y="207.76" width="3.52" height="1.97" fill="#0073ff"/>
<rect x="275.70" y="209.68" width="3.52" height="1.97" fill="#00cfff"/>
<rect x="275.70" y="211.60" width="3.52" height="1.97" fill="#0073ff"/>
<rect x="275.70" y="213.52" width="3.52" height="1.97" fill="#0073ff"/>
<rect x="279.17" y="196.24" width="3.52" height="1.97" fill="#00ffd3"/>
<rect x="279.17" y="198.16" width="3.52" height="1.97" fill="#00cfff"/>
<rect x="279.17" y="200.08" width="3.52" height="1.97" fill="#0073ff"/>
<rect x="279.17" y="202.00" width="3.52" height="1.97" fill="#00ffd3"/>
<rect x="279.17" y="203.92" width="3.52" height="1.97" fill="#00ff76"/>
<rect x="279.17" y="205.84" width="3.52" height="1.97" fill="#00ffd3"/>
<rect x="279.17" y="207.76" width="3.52" height="1.97" fill="#00ff1a"/>
<rect x="279.17" y="209.68" width="3.52" height="1.97" fill="#5e00ff"/>
<rect x="279.17" y="211.60" width="3.52" height="1.97" fill="#00ffd3"/>
<rect x="279.17" y="213.52" width="3.52" height="1.97" fill="#5e00ff"/>
<rect x="282.64" y="196.24" width="3.52" height="1.97" fill="#00ff1a"/>
<rect x="282.64" y="198.16" width="3.52" height="1.97" fill="#0073ff"/>
<rect x="282.64" y="200.08" width="3.52" height="1.97" fill="#00cfff"/>
<rect x="282.64" y="202.00" width="3.52" height="1.97" fill="#00ff76"/>
<rect x="282.64" y="203.92" width="3.52" height="1.97" fill="#00ff76"/>
<rect x="282.64" y="205.84" width="3.52" height="1.97" fill="#00cfff"/>
<rect x="282.64" y="207.76" width="3.52" height="1.97" fill="#5e00ff"/>
<rect x="282.64" y="209.68" width="3.52" height="1.97" fill="#00cfff"/>
<rect x="282.64" y="211.60" width="3.52" height="1.97" fill="#0073ff"/>
<rect x="286.10" y="194.32" width="3.52" height="1.97" fill="#00cfff"/>
<rect x="286.10" y="196.24" width="3.52" height="1.97" fill="#00ffd3"/>
<rect x="286.10" y="198.16" width="3.52" height="1.97" fill="#00cfff"/>
<rect x="286.10" y="200.08" width="3.52" height="1.97" fill="#00cfff"/>
<rect x="286.10" y="202.00" width="3.52" height="1.97" fill="#00ff76"/>
<rect x="286.10" y="203.92" width="3.52" height="1.97" fill="#00ffd3"/>
<rect x="286.10" y="205.84" width="3.52" height="1.97" fill="#d900ff"/>
<rect x="286.10" y="207.76" width="3.52" height="1.97" fill="#00cfff"/>
<rect x="286.10" y="209.68" width="3.52" height="1.97" fill="#0016ff"/>
<rect x="289.57" y="194.32" width="3.52" height="1.97" fill="#00ffd3"/>
<rect x="289.57" y="196.24" width="3.52" height="1.97" fill="#00ffd3"/>
<rect x="289.57" y="198.16" width="3.52" height="1.97" fill="#00ffd3"/>
<rect x="289.57" y="200.08" width="3.52" height="1.97" fill="#00ff76"/>
<rect x="289.57" y="202.00" width="3.52" height="1.97" fill="#00cfff"/>
<rect x="289.57" y="203.92" width="3.52" height="1.97" fill="#00cfff"/>
<rect x="289.57" y="205.84" width="3.52" height="1.97" fill="#0016ff"/>
<rect x="289.57" y="207.76" width="3.52" height="1.97" fill="#00ff1a"/>
<rect x="289.57" y="209.68" width="3.52" height="1.97" fill="#d900ff"/>
<rect x="293.04" y="196.24" width="3.52" height="1.97" fill="#00ff1a"/>
<rect x="293.04" y="198.16" width="3.52" height="1.97" fill="#00ff76"/>
<rect x="293.04" y="200.08" width="3.52" height="1.97" fill="#00ff1a"/>
<rect x="293.04" y="202.00" width="3.52" height="1.97" fill="#00ff1a"/>
<rect x="293.04" y="203.92" width="3.52" height="1.97" fill="#00cfff"/>
<rect x="293.04" y="205.84" width="3.52" height="1.97" fill="#00ffd3"/>
<rect x="293.04" y="207.76" width="3.52" height="1.97" fill="#00cfff"/>
<rect x="296.51" y="196.24" width="3.52" height="1.97" fill="#0016ff"/>
<rect x="296.51" y="198.16" width="3.52" height="1.97" fill="#ffa600"/>
<rect x="296.51" y="200.08" width="3.52" height="1.97" fill="#ff4a00"/>
<rect x="296.51" y="202.00" width="3.52" height="1.97" fill="#00ff1a"/>
<rect x="296.51" y="203.92" width="3.52" height="1.97" fill="#00ff1a"/>
<rect x="296.51" y="205.84" width="3.52" height="1.97" fill="#00ff76"/>
<rect x="299.98" y="196.24" width="3.52" height="1.97" fill="#5e00ff"/>
<rect x="299.98" y="198.16" width="3.52" height="1.97" fill="#ffa600"/>
<rect x="299.98" y="200.08" width="3.52" height="1.97" fill="#ff0000"/>
<rect x="299.98" y="202.00" width="3.52" height="1.97" fill="#ff4a00"/>
<rect x="299.98" y="203.92" width="3.52" height="1.97" fill="#00ffd3"/>
<rect x="303.44" y="196.24" width="3.52" height="1.97" fill="#0016ff"/>
<rect x="303.44" y="198.16" width="3.52" height="1.97" fill="#ff0000"/>
<rect x="303.44" y="200.08" width="3.52" height="1.97" fill="#ff0000"/>
<rect x="303.44" y="202.00" width="3.52" height="1.97" fill="#0016ff"/>
<rect x="306.91" y="194.32" width="3.52" height="1.97" fill="#0073ff"/>
<rect x="306.91" y="196.24" width="3.52" height="1.97" fill="#00ff1a"/>
<rect x="306.91" y="198.16" width="3.52" height="1.97" fill="#ff0000"/>
<rect x="306.91" y="200.08" width="3.52" height="1.97" fill="#5e00ff"/>
<rect x="310.38" y="192.40" width="3.52" height="1.97" fill="#00cfff"/>
<rect x="310.38" y="194.32" width="3.52" height="1.97" fill="#ff0000"/>
<rect x="310.38" y="196.24" width="3.52" height="1.97" fill="#ff4a00"/>
<rect x="310.38" y="198.16" width="3.52" height="1.97" fill="#5e00ff"/>
<rect x="313.85" y="190.48" width="3.52" height="1.97" fill="#00cfff"/>
<rect x="313.85" y="192.40" width="3.52" height="1.97" fill="#ff0000"/>
<rect x="313.85" y="194.32" width="3.52" height="1.97" fill="#ff0000"/>
<rect x="317.32" y="188.56" width="3.52" height="1.97" fill="#5e00ff"/>
<rect x="317.32" y="190.48" width="3.52" height="1.97" fill="#ff0000"/>
<rect x="317.32" y="192.40" width="3.52" height="1.97" fill="#00ff1a"/>
<rect x="320.78" y="186.64" width="3.52" height="1.97" fill="#00ffd3"/>
<rect x="320.78" y="188.56" width="3.52" height="1.97" fill="#ff0000"/>
<rect x="320.78" y="190.48" width="3.52" height="1.97" fill="#d900ff"/>
<rect x="324.25" y="184.72" width="3.52" height="1.97" fill="#43ff00"/>
<rect x="324.25" y="186.64" width="3.52" height="1.97" fill="#ff0000"/>
<rect x="324.25" y="188.56" width="3.52" height="1.97" fill="#0016ff"/>
<rect x="327.72" y="184.72" width="3.52" height="1.97" fill="#ff0000"/>
<rect x="327.72" y="186.64" width="3.52" height="1.97" fill="#ff0000"/>
<rect x="331.19" y="184.72" width="3.52" height="1.97" fill="#ff0000"/>
<rect x="331.19" y="186.64" width="3.52" height="1.97" fill="#ff0000"/>
<rect x="331.19" y="188.56" width="3.52" height="1.97" fill="#0016ff"/>
<rect x="334.66" y="186.64" width="3.52" height="1.97" fill="#00ff1a"/>
<rect x="334.66" y="188.56" width="3.52" height="1.97" fill="#ff0000"/>
<rect x="334.66" y="190.48" width="3.52" height="1.97" fill="#ff0000"/>
<rect x="334.66" y="192.40" width="3.52" height="1.97" fill="#d900ff"/>
<rect x="338.12" y="190.48" width="3.52" height="1.97" fill="#0073ff"/>
<rect x="338.12" y="192.40" width="3.52" height="1.97" fill="#ff0000"/>
<rect x="338.12" y="194.32" width="3.52" height="1.97" fill="#ffa600"/>
<rect x="338.12" y="196.24" width="3.52" height="1.97" fill="#9fff00"/>
<rect x="341.59" y="194.32" width="3.52" height="1.97" fill="#d900ff"/>
<rect x="341.59" y="196.24" width="3.52" height="1.97" fill="#ff0000"/>
<rect x="341.59" y="198.16" width="3.52" height="1.97" fill="#00ffd3"/>
<rect x="341.59" y="200.08" width="3.52" height="1.97" fill="#ff0000"/>
<rect x="341.59" y="202.00" width="3.52" height="1.97" fill="#d900ff"/>
<rect x="345.06" y="198.16" width="3.52" height="1.97" fill="#d900ff"/>
<rect x="345.06" y="200.08" width="3.52" height="1.97" fill="#0073ff"/>
<rect x="345.06" y="202.00" width="3.52" height="1.97" fill="#ff0000"/>
<rect x="345.06" y="203.92" width="3.52" height="1.97" fill="#00ffd3"/>
<rect x="345.06" y="205.84" width="3.52" height="1.97" fill="#ff0000"/>
<rect x="348.53" y="202.00" width="3.52" height="1.97" fill="#d900ff"/>
<rect x="348.53" y="203.92" width="3.52" height="1.97" fill="#ffffff"/>
<rect x="348.53" y="205.84" width="3.52" height="1.97" fill="#00cfff"/>
<rect x="348.53" y="207.76" width="3.52" height="1.97" fill="#ffa600"/>
<rect x="348.53" y="209.68" width="3.52" height="1.97" fill="#ffa600"/>
<rect x="348.53" y="211.60" width="3.52" height="1.97" fill="#ff0000"/>
<rect x="352.00" y="205.84" width="3.52" height="1.97" fill="#d900ff"/>
<rect x="352.00" y="207.76" width="3.52" height="1.97" fill="#ffffff"/>
<rect x="352.00" y="209.68" width="3.52" height="1.97" fill="#ffffff"/>
<rect x="352.00" y="211.60" width="3.52" height="1.97" fill="#0016ff"/>
<rect x="352.00" y="213.52" width="3.52" height="1.97" fill="#00ff1a"/>
<rect x="352.00" y="215.44" width="3.52" height="1.97" fill="#9fff00"/>
<rect x="352.00" y="217.36" width="3.52" height="1.97" fill="#ff0000"/>
<rect x="352.00" y="219.28" width="3.52" height="1.97" fill="#00ff1a"/>
<rect x="355.46" y="211.60" width="3.52" height="1.97" fill="#d900ff"/>
<rect x="355.46" y="213.52" width="3.52" height="1.97" fill="#ffffff"/>
<rect x="355.46" y="215.44" width="3.52" height="1.97" fill="#ffffff"/>
<rect x="355.46" y="217.36" width="3.52" height="1.97" fill="#ffffff"/>
<rect x="355.46" y="219.28" width="3.52" height="1.97" fill="#0073ff"/>
<rect x="355.46" y="221.20" width="3.52" height="1.97" fill="#00cfff"/>
<rect x="355.46" y="223.12" width="3.52" height="1.97" fill="#ff0000"/>
<rect x="355.46" y="225.04" width="3.52" height="1.97" fill="#ff4a00"/>
<rect x="355.46" y="226.96" width="3.52" height="1.97" fill="#00ff1a"/>
<rect x="358.93" y="217.36" width="3.52" height="1.97" fill="#d900ff"/>
<rect x="358.93" y="219.28" width="3.52" height="1.97" fill="#ffffff"/>
<rect x="358.93" y="221.20" width="3.52" height="1.97" fill="#ffffff"/>
<rect x="358.93" y="223.12" width="3.52" height="1.97" fill="#ffffff"/>
<rect x="358.93" y="225.04" width="3.52" height="1.97" fill="#0073ff"/>
<rect x="358.93" y="226.96" width="3.52" height="1.97" fill="#00ff76"/>
<rect x="358.93" y="228.88" width="3.52" height="1.97" fill="#ff0000"/>
<rect x="358.93" y="230.80" width="3.52" height="1.97" fill="#00ff1a"/>
<rect x="358.93" y="232.72" width="3.52" height="1.97" fill="#ffa600"/>
<rect x="362.40" y="221.20" width="3.52" height="1.97" fill="#d900ff"/>
<rect x="362.40" y="223.12" width="3.52" height="1.97" fill="#ffffff"/>
<rect x="362.40" y="225.04" width="3.52" height="1.97" fill="#ffffff"/>
<rect x="362.40" y="226.96" width="3.52" height="1.97" fill="#ffffff"/>
<rect x="362.40" y="228.88" width="3.52" height="1.97" fill="#d900ff"/>
<rect x="362.40" y="230.80" width="3.52" height="1.97" fill="#5e00ff"/>
<rect x="362.40" y="232.72" width="3.52" height="1.97" fill="#00cfff"/>
<rect x="362.40" y="234.64" width="3.52" height="1.97" fill="#ffa600"/>
<rect x="362.40" y="236.56" width="3.52" height="1.97" fill="#9fff00"/>
<rect x="362.40" y="238.48" width="3.52" height="1.97" fill="#ff4a00"/>
<rect x="362.40" y="240.40" width="3.52" height="1.97" fill="#5e00ff"/>
<rect x="365.87" y="221.20" width="3.52" height="1.97" fill="#d900ff"/>
<rect x="365.87" y="223.12" width="3.52" height="1.97" fill="#ffffff"/>
<rect x="365.87" y="225.04" width="3.52" height="1.97" fill="#ffffff"/>
<rect x="365.87" y="226.96" width="3.52" height="1.97" fill="#ffffff"/>
<rect x="365.87" y="228.88" width="3.52" height="1.97" fill="#ffffff"/>
<rect x="365.87" y="230.80" width="3.52" height="1.97" fill="#ffffff"/>
<rect x="365.87" y="232.72" width="3.52" height="1.97" fill="#0016ff"/>
<rect x="365.87" y="234.64" width="3.52" height="1.97" fill="#00ff1a"/>
<rect x="365.87" y="236.56" width="3.52" height="1.97" fill="#00ff76"/>
<rect x="365.87" y="238.48" width="3.52" height="1.97" fill="#00ffd3"/>
<rect x="365.87" y="240.40" width="3.52" height="1.97" fill="#ffa600"/>
<rect x="365.87" y="242.32" width="3.52" height="1.97" fill="#00ff1a"/>
<rect x="365.87" y="244.24" width="3.52" height="1.97" fill="#d900ff"/>
<rect x="369.34" y="223.12" width="3.52" height="1.97" fill="#d900ff"/>
<rect x="369.34" y="225.04" width="3.52" height="1.97" fill="#ffffff"/>
<rect x="369.34" y="226.96" width="3.52" height="1.97" fill="#ffffff"/>
<rect x="369.34" y="228.88" width="3.52" height="1.97" fill="#ffffff"/>
<rect x="369.34" y="230.80" width="3.52" height="1.97" fill="#ffffff"/>
<rect x="369.34" y="232.72" width="3.52" height="1.97" fill="#5e00ff"/>
<rect x="369.34" y="234.64" width="3.52" height="1.97" fill="#0073ff"/>
<rect x="369.34" y="236.56" width="3.52" height="1.97" fill="#00ff1a"/>
<rect x="369.34" y="238.48" width="3.52" height="1.97" fill="#00ffd3"/>
<rect x="369.34" y="240.40" width="3.52" height="1.97" fill="#0016ff"/>
<rect x="369.34" y="242.32" width="3.52" height="1.97" fill="#ff4a00"/>
<rect x="369.34" y="244.24" width="3.52" height="1.97" fill="#00ff1a"/>
<rect x="369.34" y="246.16" width="3.52" height="1.97" fill="#d900ff"/>
<rect x="372.80" y="225.04" width="3.52" height="1.97" fill="#d900ff"/>
<rect x="372.80" y="226.96" width="3.52" height="1.97" fill="#ffffff"/>
<rect x="372.80" y="228.88" width="3.52" height="1.97" fill="#ffffff"/>
<rect x="372.80" y="230.80" width="3.52" height="1.97" fill="#ffffff"/>
<rect x="372.80" y="232.72" width="3.52" height="1.97" fill="#ffffff"/>
<rect x="372.80" y="234.64" width="3.52" height="1.97" fill="#0073ff"/>
<rect x="372.80" y="236.56" width="3.52" height="1.97" fill="#00ff1a"/>
<rect x="372.80" y="238.48" width="3.52" height="1.97" fill="#00ff76"/>
<rect x="372.80" y="240.40" width="3.52" height="1.97" fill="#0016ff"/>
<rect x="372.80" y="242.32" width="3.52" height="1.97" fill="#0016ff"/>
<rect x="372.80" y="244.24" width="3.52" height="1.97" fill="#43ff00"/>
<rect x="372.80" y="246.16" width="3.52" height="1.97" fill="#fbff00"/>
<rect x="372.80" y="248.08" width="3.52" height="1.97" fill="#d900ff"/>
<rect x="376.27" y="225.04" width="3.52" height="1.97" fill="#d900ff"/>
<rect x="376.27" y="226.96" width="3.52" height="1.97" fill="#ffffff"/>
<rect x="376.27" y="228.88" width="3.52" height="1.97" fill="#ffffff"/>
<rect x="376.27" y="230.80" width="3.52" height="1.97" fill="#ffffff"/>
<rect x="376.27" y="232.72" width="3.52" height="1.97" fill="#ffffff"/>
<rect x="376.27" y="234.64" width="3.52" height="1.97" fill="#0016ff"/>
<rect x="376.27" y="236.56" width="3.52" height="1.97" fill="#00ff1a"/>
<rect x="376.27" y="238.48" width="3.52" height="1.97" fill="#00ff1a"/>
<rect x="376.27" y="240.40" width="3.52" height="1.97" fill="#0016ff"/>
<rect x="376.27" y="242.32" width="3.52" height="1.97" fill="#0073ff"/>
<rect x="376.27" y="244.24" width="3.52" height="1.97" fill="#0073ff"/>
<rect x="376.27" y="246.16" width="3.52" height="1.97" fill="#fbff00"/>
<rect x="376.27" y="248.08" width="3.52" height="1.97" fill="#00cfff"/>
<rect x="376.27" y="250.00" width="3.52" height="1.97" fill="#d900ff"/>
<rect x="379.74" y="226.96" width="3.52" height="1.97" fill="#d900ff"/>
<rect x="379.74" y="228.88" width="3.52" height="1.97" fill="#ffffff"/>
<rect x="379.74" y="230.80" width="3.52" height="1.97" fill="#ffffff"/>
<rect x="379.74" y="232.72" width="3.52" height="1.97" fill="#ffffff"/>
<rect x="379.74" y="234.64" width="3.52" height="1.97" fill="#0016ff"/>
<rect x="379.74" y="236.56" width="3.52" height="1.97" fill="#00ff1a"/>
<rect x="379.74" y="238.48" width="3.52" height="1.97" fill="#00ffd3"/>
<rect x="379.74" y="240.40" width="3.52" height="1.97" fill="#00cfff"/>
<rect x="379.74" y="242.32" width="3.52" height="1.97" fill="#0073ff"/>
<rect x="379.74" y="244.24" width="3.52" height="1.97" fill="#0016ff"/>
<rect x="379.74" y="246.16" width="3.52" height="1.97" fill="#00ff1a"/>
<rect x="379.74" y="248.08" width="3.52" height="1.97" fill="#0016ff"/>
<rect x="379.74" y="250.00" width="3.52" height="1.97" fill="#0016ff"/>
<rect x="379.74" y="251.92" width="3.52" height="1.97" fill="#5e00ff"/>
<rect x="383.21" y="226.96" width="3.52" height="1.97" fill="#d900ff"/>
<rect x="383.21" y="228.88" width="3.52" height="1.97" fill="#ffffff"/>
<rect x="383.21" y="230.80" width="3.52" height="1.97" fill="#ffffff"/>
<rect x="383.21" y="232.72" width="3.52" height="1.97" fill="#d900ff"/>
<rect x="383.21" y="234.64" width="3.52" height="1.97" fill="#0016ff"/>
<rect x="383.21" y="236.56" width="3.52" height="1.97" fill="#00ff76"/>
<rect x="383.21" y="238.48" width="3.52" height="1.97" fill="#00cfff"/>
<rect x="383.21" y="240.40" width="3.52" height="1.97" fill="#00cfff"/>
<rect x="383.21" y="242.32" width="3.52" height="1.97" fill="#0016ff"/>
<rect x="383.21" y="244.24" width="3.52" height="1.97" fill="#5e00ff"/>
<rect x="383.21" y="246.16" width="3.52" height="1.97" fill="#0016ff"/>
<rect x="383.21" y="248.08" width="3.52" height="1.97" fill="#00ff1a"/>
<rect x="383.21" y="250.00" width="3.52" height="1.97" fill="#0016ff"/>
<rect x="383.21" y="251.92" width="3.52" height="1.97" fill="#0016ff"/>
<rect x="383.21" y="253.84" width="3.52" height="1.97" fill="#5e00ff"/>
<rect x="386.68" y="226.96" width="3.52" height="1.97" fill="#d900ff"/>
<rect x="386.68" y="228.88" width="3.52" height="1.97" fill="#ffffff"/>
<rect x="386.68" y="230.80" width="3.52" height="1.97" fill="#ffffff"/>
<rect x="386.68" y="232.72" width="3.52" height="1.97" fill="#d900ff"/>
<rect x="386.68" y="234.64" width="3.52" height="1.97" fill="#0016ff"/>
<rect x="386.68" y="236.56" width="3.52" height="1.97" fill="#00ffd3"/>
<rect x="386.68" y="238.48" width="3.52" height="1.97" fill="#00cfff"/>
<rect x="386.68" y="240.40" width="3.52" height="1.97" fill="#00ffd3"/>
<rect x="386.68" y="242.32" width="3.52" height="1.97" fill="#0016ff"/>
<rect x="386.68" y="244.24" width="3.52" height="1.97" fill="#d900ff"/>
<rect x="386.68" y="246.16" width="3.52" height="1.97" fill="#00cfff"/>
<rect x="386.68" y="248.08" width="3.52" height="1.97" fill="#00ff76"/>
<rect x="386.68" y="250.00" width="3.52" height="1.97" fill="#0016ff"/>
<rect x="386.68" y="251.92" width="3.52" height="1.97" fill="#5e00ff"/>
<rect x="386.68" y="253.84" width="3.52" height="1.97" fill="#0016ff"/>
<rect x="386.68" y="255.76" width="3.52" height="1.97" fill="#d900ff"/>
<rect x="390.14" y="230.80" width="3.52" height="1.97" fill="#5e00ff"/>
<rect x="390.14" y="232.72" width="3.52" height="1.97" fill="#ffffff"/>
<rect x="390.14" y="234.64" width="3.52" height="1.97" fill="#0016ff"/>
<rect x="390.14" y="236.56" width="3.52" height="1.97" fill="#00ffd3"/>
<rect x="390.14" y="238.48" width="3.52" height="1.97" fill="#00cfff"/>
<rect x="390.14" y="240.40" width="3.52" height="1.97" fill="#5e00ff"/>
<rect x="390.14" y="242.32" width="3.52" height="1.97" fill="#00cfff"/>
<rect x="390.14" y="244.24" width="3.52" height="1.97" fill="#d900ff"/>
<rect x="390.14" y="246.16" width="3.52" height="1.97" fill="#00ffd3"/>
<rect x="390.14" y="248.08" width="3.52" height="1.97" fill="#00ffd3"/>
<rect x="390.14" y="250.00" width="3.52" height="1.97" fill="#00cfff"/>
<rect x="390.14" y="251.92" width="3.52" height="1.97" fill="#5e00ff"/>
<rect x="390.14" y="253.84" width="3.52" height="1.97" fill="#d900ff"/>
<rect x="390.14" y="255.76" width="3.52" height="1.97" fill="#5e00ff"/>
<rect x="393.61" y="228.88" width="3.52" height="1.97" fill="#d900ff"/>
<rect x="393.61" y="230.80" width="3.52" height="1.97" fill="#d900ff"/>
<rect x="393.61" y="232.72" width="3.52" height="1.97" fill="#0016ff"/>
<rect x="393.61" y="234.64" width="3.52" height="1.97" fill="#0016ff"/>
<rect x="393.61" y="236.56" width="3.52" height="1.97" fill="#00ffd3"/>
<rect x="393.61" y="238.48" width="3.52" height="1.97" fill="#00cfff"/>
<rect x="393.61" y="240.40" width="3.52" height="1.97" fill="#0073ff"/>
<rect x="393.61" y="242.32" width="3.52" height="1.97" fill="#0073ff"/>
<rect x="393.61" y="244.24" width="3.52" height="1.97" fill="#0016ff"/>
<rect x="393.61" y="246.16" width="3.52" height="1.97" fill="#0016ff"/>
<rect x="393.61" y="248.08" width="3.52" height="1.97" fill="#00ff1a"/>
<rect x="393.61" y="250.00" width="3.52" height="1.97" fill="#5e00ff"/>
<rect x="393.61" y="251.92" width="3.52" height="1.97" fill="#d900ff"/>
<rect x="393.61" y="253.84" width="3.52" height="1.97" fill="#d900ff"/>
<rect x="393.61" y="255.76" width="3.52" height="1.97" fill="#d900ff"/>
<rect x="397.08" y="226.96" width="3.52" height="1.97" fill="#d900ff"/>
<rect x="397.08" y="228.88" width="3.52" height="1.97" fill="#ffffff"/>
<rect x="397.08" y="230.80" width="3.52" height="1.97" fill="#d900ff"/>
<rect x="397.08" y="232.72" width="3.52" height="1.97" fill="#00cfff"/>
<rect x="397.08" y="234.64" width="3.52" height="1.97" fill="#0016ff"/>
<rect x="397.08" y="236.56" width="3.52" height="1.97" fill="#00cfff"/>
<rect x="397.08" y="238.48" width="3.52" height="1.97" fill="#0073ff"/>
<rect x="397.08" y="240.40" width="3.52" height="1.97" fill="#0073ff"/>
<rect x="397.08" y="242.32" width="3.52" height="1.97" fill="#0073ff"/>
<rect x="397.08" y="244.24" width="3.52" height="1.97" fill="#00cfff"/>
<rect x="397.08" y="246.16" width="3.52" height="1.97" fill="#00cfff"/>
<rect x="397.08" y="248.08" width="3.52" height="1.97" fill="#00cfff"/>
<rect x="397.08" y="250.00" width="3.52" height="1.97" fill="#d900ff"/>
<rect x="397.08" y="251.92" width="3.52" height="1.97" fill="#d900ff"/>
<rect x="397.08" y="253.84" width="3.52" height="1.97" fill="#5e00ff"/>
<rect x="400.55" y="226.96" width="3.52" height="1.97" fill="#d900ff"/>
<rect x="400.55" y="228.88" width="3.52" height="1.97" fill="#ffffff"/>
<rect x="400.55" y="230.80" width="3.52" height="1.97" fill="#ffffff"/>
<rect x="400.55" y="232.72" width="3.52" height="1.97" fill="#00ff76"/>
<rect x="400.55" y="234.64" width="3.52" height="1.97" fill="#00cfff"/>
<rect x="400.55" y="236.56" width="3.52" height="1.97" fill="#00ffd3"/>
<rect x="400.55" y="238.48" width="3.52" height="1.97" fill="#0016ff"/>
<rect x="400.55" y="240.40" width="3.52" height="1.97" fill="#0016ff"/>
<rect x="400.55" y="242.32" width="3.52" height="1.97" fill="#00cfff"/>
<rect x="400.55" y="244.24" width="3.52" height="1.97" fill="#00ff1a"/>
<rect x="400.55" y="246.16" width="3.52" height="1.97" fill="#0016ff"/>
<rect x="400.55" y="248.08" width="3.52" height="1.97" fill="#d900ff"/>
<rect x="400.55" y="250.00" width="3.52" height="1.97" fill="#0016ff"/>
<rect x="400.55" y="251.92" width="3.52" height="1.97" fill="#d900ff"/>
<rect x="404.02" y="226.96" width="3.52" height="1.97" fill="#d900ff"/>
<rect x="404.02" y="228.88" width="3.52" height="1.97" fill="#ffffff"/>
<rect x="404.02" y="230.80" width="3.52" height="1.97" fill="#00cfff"/>
<rect x="404.02" y="232.72" width="3.52" height="1.97" fill="#0073ff"/>
<rect x="404.02" y="234.64" width="3.52" height="1.97" fill="#0073ff"/>
<rect x="404.02" y="236.56" width="3.52" height="1.97" fill="#00cfff"/>
<rect x="404.02" y="238.48" width="3.52" height="1.97" fill="#0073ff"/>
<rect x="404.02" y="240.40" width="3.52" height="1.97" fill="#0073ff"/>
<rect x="404.02" y="242.32" width="3.52" height="1.97" fill="#00ff1a"/>
<rect x="404.02" y="244.24" width="3.52" height="1.97" fill="#00cfff"/>
<rect x="404.02" y="246.16" width="3.52" height="1.97" fill="#0016ff"/>
<rect x="404.02" y="248.08" width="3.52" height="1.97" fill="#d900ff"/>
<rect x="404.02" y="250.00" width="3.52" height="1.97" fill="#5e00ff"/>
<rect x="407.48" y="225.04" width="3.52" height="1.97" fill="#d900ff"/>
<rect x="407.48" y="226.96" width="3.52" height="1.97" fill="#ffffff"/>
<rect x="407.48" y="228.88" width="3.52" height="1.97" fill="#0016ff"/>
<rect x="407.48" y="230.80" width="3.52" height="1.97" fill="#00cfff"/>
<rect x="407.48" y="232.72" width="3.52" height="1.97" fill="#0073ff"/>
<rect x="407.48" y="234.64" width="3.52" height="1.97" fill="#00cfff"/>
<rect x="407.48" y="236.56" width="3.52" height="1.97" fill="#0073ff"/>
<rect x="407.48" y="238.48" width="3.52" height="1.97" fill="#0073ff"/>
<rect x="407.48" y="240.40" width="3.52" height="1.97" fill="#00ff1a"/>
<rect x="407.48" y="242.32" width="3.52" height="1.97" fill="#0016ff"/>
<rect x="407.48" y="244.24" width="3.52" height="1.97" fill="#00ffd3"/>
<rect x="407.48" y="246.16" width="3.52" height="1.97" fill="#5e00ff"/>
<rect x="407.48" y="248.08" width="3.52" height="1.97" fill="#d900ff"/>
<rect x="410.95" y="223.12" width="3.52" height="1.97" fill="#d900ff"/>
<rect x="410.95" y="225.04" width="3.52" height="1.97" fill="#ffffff"/>
<rect x="410.95" y="226.96" width="3.52" height="1.97" fill="#5e00ff"/>
<rect x="410.95" y="228.88" width="3.52" height="1.97" fill="#0016ff"/>
<rect x="410.95" y="230.80" width="3.52" height="1.97" fill="#d900ff"/>
<rect x="410.95" y="232.72" width="3.52" height="1.97" fill="#00cfff"/>
<rect x="410.95" y="234.64" width="3.52" height="1.97" fill="#00ff76"/>
<rect x="410.95" y="236.56" width="3.52" height="1.97" fill="#00ffd3"/>
<rect x="410.95" y="238.48" width="3.52" height="1.97" fill="#00ff1a"/>
<rect x="410.95" y="240.40" width="3.52" height="1.97" fill="#00cfff"/>
<rect x="410.95" y="242.32" width="3.52" height="1.97" fill="#0016ff"/>
<rect x="410.95" y="244.24" width="3.52" height="1.97" fill="#0073ff"/>
<rect x="410.95" y="246.16" width="3.52" height="1.97" fill="#d900ff"/>
<rect x="414.42" y="225.04" width="3.52" height="1.97" fill="#d900ff"/>
<rect x="414.42" y="226.96" width="3.52" height="1.97" fill="#0016ff"/>
<rect x="414.42" y="228.88" width="3.52" height="1.97" fill="#d900ff"/>
<rect x="414.42" y="230.80" width="3.52" height="1.97" fill="#0016ff"/>
<rect x="414.42" y="232.72" width="3.52" height="1.97" fill="#00cfff"/>
<rect x="414.42" y="234.64" width="3.52" height="1.97" fill="#00ff1a"/>
<rect x="414.42" y="236.56" width="3.52" height="1.97" fill="#00ff1a"/>
<rect x="414.42" y="238.48" width="3.52" height="1.97" fill="#00cfff"/>
<rect x="414.42" y="240.40" width="3.52" height="1.97" fill="#0016ff"/>
<rect x="414.42" y="242.32" width="3.52" height="1.97" fill="#0016ff"/>
<rect x="414.42" y="244.24" width="3.52" height="1.97" fill="#5e00ff"/>
<rect x="417.89" y="219.28" width="3.52" height="1.97" fill="#d900ff"/>
<rect x="417.89" y="221.20" width="3.52" height="1.97" fill="#ffffff"/>
<rect x="417.89" y="223.12" width="3.52" height="1.97" fill="#d900ff"/>
<rect x="417.89" y="225.04" width="3.52" height="1.97" fill="#0016ff"/>
<rect x="417.89" y="226.96" width="3.52" height="1.97" fill="#5e00ff"/>
<rect x="417.89" y="228.88" width="3.52" height="1.97" fill="#5e00ff"/>
<rect x="417.89" y="230.80" width="3.52" height="1.97" fill="#00ffd3"/>
<rect x="417.89" y="232.72" width="3.52" height="1.97" fill="#fbff00"/>
<rect x="417.89" y="234.64" width="3.52" height="1.97" fill="#00ff1a"/>
<rect x="417.89" y="236.56" width="3.52" height="1.97" fill="#00cfff"/>
<rect x="417.89" y="238.48" width="3.52" height="1.97" fill="#0073ff"/>
<rect x="417.89" y="240.40" width="3.52" height="1.97" fill="#0016ff"/>
<rect x="421.36" y="217.36" width="3.52" height="1.97" fill="#d900ff"/>
<rect x="421.36" y="219.28" width="3.52" height="1.97" fill="#ffffff"/>
<rect x="421.36" y="221.20" width="3.52" height="1.97" fill="#ffffff"/>
<rect x="421.36" y="223.12" width="3.52" height="1.97" fill="#5e00ff"/>
<rect x="421.36" y="225.04" width="3.52" height="1.97" fill="#5e00ff"/>
<rect x="421.36" y="226.96" width="3.52" height="1.97" fill="#5e00ff"/>
<rect x="421.36" y="228.88" width="3.52" height="1.97" fill="#0073ff"/>
<rect x="421.36" y="230.80" width="3.52" height="1.97" fill="#9fff00"/>
<rect x="421.36" y="232.72" width="3.52" height="1.97" fill="#ffa600"/>
<rect x="421.36" y="234.64" width="3.52" height="1.97" fill="#0073ff"/>
<rect x="421.36" y="236.56" width="3.52" height="1.97" fill="#00ff1a"/>
<rect x="421.36" y="238.48" width="3.52" height="1.97" fill="#d900ff"/>
<rect x="424.82" y="217.36" width="3.52" height="1.97" fill="#d900ff"/>
<rect x="424.82" y="219.28" width="3.52" height="1.97" fill="#d900ff"/>
<rect x="424.82" y="221.20" width="3.52" height="1.97" fill="#ffffff"/>
<rect x="424.82" y="223.12" width="3.52" height="1.97" fill="#0016ff"/>
<rect x="424.82" y="225.04" width="3.52" height="1.97" fill="#5e00ff"/>
<rect x="424.82" y="226.96" width="3.52" height="1.97" fill="#0016ff"/>
<rect x="424.82" y="228.88" width="3.52" height="1.97" fill="#0073ff"/>
<rect x="424.82" y="230.80" width="3.52" height="1.97" fill="#ff0000"/>
<rect x="424.82" y="232.72" width="3.52" height="1.97" fill="#00ff1a"/>
<rect x="424.82" y="234.64" width="3.52" height="1.97" fill="#00ff76"/>
<rect x="424.82" y="236.56" width="3.52" height="1.97" fill="#00cfff"/>
<rect x="428.29" y="215.44" width="3.52" height="1.97" fill="#d900ff"/>
<rect x="428.29" y="217.36" width="3.52" height="1.97" fill="#ffffff"/>
<rect x="428.29" y="219.28" width="3.52" height="1.97" fill="#d900ff"/>
<rect x="428.29" y="221.20" width="3.52" height="1.97" fill="#ffffff"/>
<rect x="428.29" y="223.12" width="3.52" height="1.97" fill="#0016ff"/>
<rect x="428.29" y="225.04" width="3.52" height="1.97" fill="#ffffff"/>
<rect x="428.29" y="226.96" width="3.52" height="1.97" fill="#00ffd3"/>
<rect x="428.29" y="228.88" width="3.52" height="1.97" fill="#9fff00"/>
<rect x="428.29" y="230.80" width="3.52" height="1.97" fill="#fbff00"/>
<rect x="428.29" y="232.72" width="3.52" height="1.97" fill="#00ff1a"/>
<rect x="428.29" y="234.64" width="3.52" height="1.97" fill="#00cfff"/>
<rect x="428.29" y="236.56" width="3.52" height="1.97" fill="#d900ff"/>
<rect x="431.76" y="215.44" width="3.52" height="1.97" fill="#d900ff"/>
<rect x="431.76" y="217.36" width="3.52" height="1.97" fill="#ffffff"/>
<rect x="431.76" y="219.28" width="3.52" height="1.97" fill="#5e00ff"/>
<rect x="431.76" y="221.20" width="3.52" height="1.97" fill="#ffffff"/>
<rect x="431.76" y="223.12" width="3.52" height="1.97" fill="#5e00ff"/>
<rect x="431.76" y="225.04" width="3.52" height="1.97" fill="#5e00ff"/>
<rect x="431.76" y="226.96" width="3.52" height="1.97" fill="#0073ff"/>
<rect x="431.76" y="228.88" width="3.52" height="1.97" fill="#ff0000"/>
<rect x="431.76" y="230.80" width="3.52" height="1.97" fill="#fbff00"/>
<rect x="431.76" y="232.72" width="3.52" height="1.97" fill="#00ff1a"/>
<rect x="431.76" y="234.64" width="3.52" height="1.97" fill="#0016ff"/>
<rect x="435.23" y="215.44" width="3.52" height="1.97" fill="#d900ff"/>
<rect x="435.23" y="217.36" width="3.52" height="1.97" fill="#ffffff"/>
<rect x="435.23" y="219.28" width="3.52" height="1.97" fill="#5e00ff"/>
<rect x="435.23" y="221.20" width="3.52" height="1.97" fill="#ffffff"/>
<rect x="435.23" y="223.12" width="3.52" height="1.97" fill="#5e00ff"/>
<rect x="435.23" y="225.04" width="3.52" height="1.97" fill="#00cfff"/>
<rect x="435.23" y="226.96" width="3.52" height="1.97" fill="#fbff00"/>
<rect x="435.23" y="228.88" width="3.52" height="1.97" fill="#ff0000"/>
<rect x="435.23" y="230.80" width="3.52" height="1.97" fill="#00ff1a"/>
<rect x="435.23" y="232.72" width="3.52" height="1.97" fill="#5e00ff"/>
<rect x="435.23" y="234.64" width="3.52" height="1.97" fill="#d900ff"/>
<rect x="438.70" y="215.44" width="3.52" height="1.97" fill="#d900ff"/>
<rect x="438.70" y="217.36" width="3.52" height="1.97" fill="#d900ff"/>
<rect x="438.70" y="219.28" width="3.52" height="1.97" fill="#d900ff"/>
<rect x="438.70" y="221.20" width="3.52" height="1.97" fill="#0016ff"/>
<rect x="438.70" y="223.12" width="3.52" height="1.97" fill="#0073ff"/>
<rect x="438.70" y="225.04" width="3.52" height="1.97" fill="#00ffd3"/>
<rect x="438.70" y="226.96" width="3.52" height="1.97" fill="#9fff00"/>
<rect x="438.70" y="228.88" width="3.52" height="1.97" fill="#fbff00"/>
<rect x="438.70" y="230.80" width="3.52" height="1.97" fill="#00ff1a"/>
<rect x="438.70" y="232.72" width="3.52" height="1.97" fill="#d900ff"/>
<rect x="442.16" y="213.52" width="3.52" height="1.97" fill="#d900ff"/>
<rect x="442.16" y="215.44" width="3.52" height="1.97" fill="#d900ff"/>
<rect x="442.16" y="217.36" width="3.52" height="1.97" fill="#d900ff"/>
<rect x="442.16" y="219.28" width="3.52" height="1.97" fill="#d900ff"/>
<rect x="442.16" y="221.20" width="3.52" height="1.97" fill="#0016ff"/>
<rect x="442.16" y="223.12" width="3.52" height="1.97" fill="#00cfff"/>
<rect x="442.16" y="225.04" width="3.52" height="1.97" fill="#9fff00"/>
<rect x="442.16" y="226.96" width="3.52" height="1.97" fill="#ff0000"/>
<rect x="442.16" y="228.88" width="3.52" height="1.97" fill="#00ffd3"/>
<rect x="442.16" y="230.80" width="3.52" height="1.97" fill="#d900ff"/>
<rect x="445.63" y="213.52" width="3.52" height="1.97" fill="#d900ff"/>
<rect x="445.63" y="215.44" width="3.52" height="1.97" fill="#ffffff"/>
<rect x="445.63" y="217.36" width="3.52" height="1.97" fill="#ffffff"/>
<rect x="445.63" y="219.28" width="3.52" height="1.97" fill="#5e00ff"/>
<rect x="445.63" y="221.20" width="3.52" height="1.97" fill="#00ff76"/>
<rect x="445.63" y="223.12" width="3.52" height="1.97" fill="#9fff00"/>
<rect x="445.63" y="225.04" width="3.52" height="1.97" fill="#ffa600"/>
<rect x="445.63" y="226.96" width="3.52" height="1.97" fill="#ff4a00"/>
<rect x="445.63" y="228.88" width="3.52" height="1.97" fill="#0016ff"/>
<rect x="445.63" y="230.80" width="3.52" height="1.97" fill="#d900ff"/>
<rect x="449.10" y="213.52" width="3.52" height="1.97" fill="#5e00ff"/>
<rect x="449.10" y="215.44" width="3.52" height="1.97" fill="#5e00ff"/>
<rect x="449.10" y="217.36" width="3.52" height="1.97" fill="#5e00ff"/>
<rect x="449.10" y="219.28" width="3.52" height="1.97" fill="#00cfff"/>
<rect x="449.10" y="221.20" width="3.52" height="1.97" fill="#43ff00"/>
<rect x="449.10" y="223.12" width="3.52" height="1.97" fill="#ffa600"/>
<rect x="449.10" y="225.04" width="3.52" height="1.97" fill="#ff0000"/>
<rect x="449.10" y="226.96" width="3.52" height="1.97" fill="#5e00ff"/>
<rect x="452.57" y="213.52" width="3.52" height="1.97" fill="#5e00ff"/>
<rect x="452.57" y="215.44" width="3.52" height="1.97" fill="#5e00ff"/>
<rect x="452.57" y="217.36" width="3.52" height="1.97" fill="#5e00ff"/>
<rect x="452.57" y="219.28" width="3.52" height="1.97" fill="#00cfff"/>
<rect x="452.57" y="221.20" width="3.52" height="1.97" fill="#43ff00"/>
<rect x="452.57" y="223.12" width="3.52" height="1.97" fill="#ffa600"/>
<rect x="452.57" y="225.04" width="3.52" height="1.97" fill="#ff0000"/>
<rect x="452.57" y="226.96" width="3.52" height="1.97" fill="#5e00ff"/>
<rect x="456.04" y="211.60" width="3.52" height="1.97" fill="#d900ff"/>
<rect x="456.04" y="213.52" width="3.52" height="1.97" fill="#5e00ff"/>
<rect x="456.04" y="215.44" width="3.52" height="1.97" fill="#5e00ff"/>
<rect x="456.04" y="217.36" width="3.52" height="1.97" fill="#00cfff"/>
<rect x="456.04" y="219.28" width="3.52" height="1.97" fill="#5e00ff"/>
<rect x="456.04" y="221.20" width="3.52" height="1.97" fill="#9fff00"/>
<rect x="456.04" y="223.12" width="3.52" height="1.97" fill="#ff0000"/>
<rect x="456.04" y="225.04" width="3.52" height="1.97" fill="#00ffd3"/>
<rect x="456.04" y="226.96" width="3.52" height="1.97" fill="#5e00ff"/>
<rect x="459.50" y="211.60" width="3.52" height="1.97" fill="#d900ff"/>
<rect x="459.50" y="213.52" width="3.52" height="1.97" fill="#5e00ff"/>
<rect x="459.50" y="215.44" width="3.52" height="1.97" fill="#5e00ff"/>
<rect x="459.50" y="217.36" width="3.52" height="1.97" fill="#00cfff"/>
<rect x="459.50" y="219.28" width="3.52" height="1.97" fill="#5e00ff"/>
<rect x="459.50" y="221.20" width="3.52" height="1.97" fill="#9fff00"/>
<rect x="459.50" y="223.12" width="3.52" height="1.97" fill="#ff0000"/>
<rect x="459.50" y="225.04" width="3.52" height="1.97" fill="#00ffd3"/>
<rect x="459.50" y="226.96" width="3.52" height="1.97" fill="#5e00ff"/>
<rect x="462.97" y="207.76" width="3.52" height="1.97" fill="#d900ff"/>
<rect x="462.97" y="209.68" width="3.52" height="1.97" fill="#ffffff"/>
<rect x="462.97" y="211.60" width="3.52" height="1.97" fill="#0073ff"/>
<rect x="462.97" y="213.52" width="3.52" height="1.97" fill="#d900ff"/>
<rect x="462.97" y="215.44" width="3.52" height="1.97" fill="#00cfff"/>
<rect x="462.97" y="217.36" width="3.52" height="1.97" fill="#fbff00"/>
<rect x="462.97" y="219.28" width="3.52" height="1.97" fill="#fbff00"/>
<rect x="462.97" y="221.20" width="3.52" height="1.97" fill="#9fff00"/>
<rect x="462.97" y="223.12" width="3.52" height="1.97" fill="#5e00ff"/>
<rect x="462.97" y="225.04" width="3.52" height="1.97" fill="#5e00ff"/>
<rect x="466.44" y="207.76" width="3.52" height="1.97" fill="#d900ff"/>
<rect x="466.44" y="209.68" width="3.52" height="1.97" fill="#ffffff"/>
<rect x="466.44" y="211.60" width="3.52" height="1.97" fill="#0073ff"/>
<rect x="466.44" y="213.52" width="3.52" height="1.97" fill="#d900ff"/>
<rect x="466.44" y="215.44" width="3.52" height="1.97" fill="#00cfff"/>
<rect x="466.44" y="217.36" width="3.52" height="1.97" fill="#fbff00"/>
<rect x="466.44" y="219.28" width="3.52" height="1.97" fill="#fbff00"/>
<rect x="466.44" y="221.20" width="3.52" height="1.97" fill="#9fff00"/>
<rect x="466.44" y="223.12" width="3.52" height="1.97" fill="#5e00ff"/>
<rect x="466.44" y="225.04" width="3.52" height="1.97" fill="#5e00ff"/>
<rect x="469.91" y="207.76" width="3.52" height="1.97" fill="#5e00ff"/>
<rect x="469.91" y="209.68" width="3.52" height="1.97" fill="#ffffff"/>
<rect x="469.91" y="211.60" width="3.52" height="1.97" fill="#5e00ff"/>
<rect x="469.91" y="213.52" width="3.52" height="1.97" fill="#00ff1a"/>
<rect x="469.91" y="215.44" width="3.52" height="1.97" fill="#9fff00"/>
<rect x="469.91" y="217.36" width="3.52" height="1.97" fill="#ff0000"/>
<rect x="469.91" y="219.28" width="3.52" height="1.97" fill="#00ff76"/>
<rect x="469.91" y="221.20" width="3.52" height="1.97" fill="#00cfff"/>
<rect x="469.91" y="223.12" width="3.52" height="1.97" fill="#d900ff"/>
<rect x="469.91" y="225.04" width="3.52" height="1.97" fill="#d900ff"/>
<rect x="473.38" y="207.76" width="3.52" height="1.97" fill="#5e00ff"/>
<rect x="473.38" y="209.68" width="3.52" height="1.97" fill="#ffffff"/>
<rect x="473.38" y="211.60" width="3.52" height="1.97" fill="#5e00ff"/>
<rect x="473.38" y="213.52" width="3.52" height="1.97" fill="#00ff1a"/>
<rect x="473.38" y="215.44" width="3.52" height="1.97" fill="#9fff00"/>
<rect x="473.38" y="217.36" width="3.52" height="1.97" fill="#ff0000"/>
<rect x="473.38" y="219.28" width="3.52" height="1.97" fill="#00ff76"/>
<rect x="473.38" y="221.20" width="3.52" height="1.97" fill="#00cfff"/>
<rect x="473.38" y="223.12" width="3.52" height="1.97" fill="#d900ff"/>
<rect x="473.38" y="225.04" width="3.52" height="1.97" fill="#d900ff"/>
<rect x="476.84" y="207.76" width="3.52" height="1.97" fill="#00ffd3"/>
<rect x="476.84" y="209.68" width="3.52" height="1.97" fill="#43ff00"/>
<rect x="476.84" y="211.60" width="3.52" height="1.97" fill="#9fff00"/>
<rect x="476.84" y="213.52" width="3.52" height="1.97" fill="#00ff1a"/>
<rect x="476.84" y="215.44" width="3.52" height="1.97" fill="#00ff1a"/>
<rect x="476.84" y="217.36" width="3.52" height="1.97" fill="#0073ff"/>
<rect x="476.84" y="219.28" width="3.52" height="1.97" fill="#d900ff"/>
<rect x="480.31" y="207.76" width="3.52" height="1.97" fill="#00ffd3"/>
<rect x="480.31" y="209.68" width="3.52" height="1.97" fill="#43ff00"/>
<rect x="480.31" y="211.60" width="3.52" height="1.97" fill="#9fff00"/>
<rect x="480.31" y="213.52" width="3.52" height="1.97" fill="#00ff1a"/>
<rect x="480.31" y="215.44" width="3.52" height="1.97" fill="#00ff1a"/>
<rect x="480.31" y="217.36" width="3.52" height="1.97" fill="#0073ff"/>
<rect x="480.31" y="219.28" width="3.52" height="1.97" fill="#d900ff"/>
<rect x="483.78" y="207.76" width="3.52" height="1.97" fill="#00ffd3"/>
<rect x="483.78" y="209.68" width="3.52" height="1.97" fill="#43ff00"/>
<rect x="483.78" y="211.60" width="3.52" height="1.97" fill="#9fff00"/>
<rect x="483.78" y="213.52" width="3.52" height="1.97" fill="#00ff1a"/>
<rect x="483.78" y="215.44" width="3.52" height="1.97" fill="#00ff1a"/>
<rect x="483.78" y="217.36" width="3.52" height="1.97" fill="#0073ff"/>
<rect x="483.78" y="219.28" width="3.52" height="1.97" fill="#d900ff"/>
<rect x="487.25" y="207.76" width="3.52" height="1.97" fill="#00ffd3"/>
<rect x="487.25" y="209.68" width="3.52" height="1.97" fill="#43ff00"/>
<rect x="487.25" y="211.60" width="3.52" height="1.97" fill="#9fff00"/>
<rect x="487.25" y="213.52" width="3.52" height="1.97" fill="#00ff1a"/>
<rect x="487.25" y="215.44" width="3.52" height="1.97" fill="#00ff1a"/>
<rect x="487.25" y="217.36" width="3.52" height="1.97" fill="#0073ff"/>
<rect x="487.25" y="219.28" width="3.52" height="1.97" fill="#d900ff"/>
<rect x="490.72" y="203.92" width="3.52" height="1.97" fill="#0016ff"/>
<rect x="490.72" y="205.84" width="3.52" height="1.97" fill="#00cfff"/>
<rect x="490.72" y="207.76" width="3.52" height="1.97" fill="#9fff00"/>
<rect x="490.72" y="209.68" width="3.52" height="1.97" fill="#43ff00"/>
<rect x="490.72" y="211.60" width="3.52" height="1.97" fill="#ffa600"/>
<rect x="490.72" y="213.52" width="3.52" height="1.97" fill="#0073ff"/>
<rect x="490.72" y="215.44" width="3.52" height="1.97" fill="#5e00ff"/>
<rect x="490.72" y="217.36" width="3.52" height="1.97" fill="#d900ff"/>
<rect x="494.18" y="203.92" width="3.52" height="1.97" fill="#0016ff"/>
<rect x="494.18" y="205.84" width="3.52" height="1.97" fill="#00cfff"/>
<rect x="494.18" y="207.76" width="3.52" height="1.97" fill="#9fff00"/>
<rect x="494.18" y="209.68" width="3.52" height="1.97" fill="#43ff00"/>
<rect x="494.18" y="211.60" width="3.52" height="1.97" fill="#ffa600"/>
<rect x="494.18" y="213.52" width="3.52" height="1.97" fill="#0073ff"/>
<rect x="494.18" y="215.44" width="3.52" height="1.97" fill="#5e00ff"/>
<rect x="494.18" y="217.36" width="3.52" height="1.97" fill="#d900ff"/>
<rect x="497.65" y="203.92" width="3.52" height="1.97" fill="#0016ff"/>
<rect x="497.65" y="205.84" width="3.52" height="1.97" fill="#00cfff"/>
<rect x="497.65" y="207.76" width="3.52" height="1.97" fill="#9fff00"/>
<rect x="497.65" y="209.68" width="3.52" height="1.97" fill="#43ff00"/>
<rect x="497.65" y="211.60" width="3.52" height="1.97" fill="#ffa600"/>
<rect x="497.65" y="213.52" width="3.52" height="1.97" fill="#0073ff"/>
<rect x="497.65" y="215.44" width="3.52" height="1.97" fill="#5e00ff"/>
<rect x="497.65" y="217.36" width="3.52" height="1.97" fill="#d900ff"/>
<rect x="501.12" y="203.92" width="3.52" height="1.97" fill="#0016ff"/>
<rect x="501.12" y="205.84" width="3.52" height="1.97" fill="#00cfff"/>
<rect x="501.12" y="207.76" width="3.52" height="1.97" fill="#9fff00"/>
<rect x="501.12" y="209.68" width="3.52" height="1.97" fill="#43ff00"/>
<rect x="501.12" y="211.60" width="3.52" height="1.97" fill="#ffa600"/>
<rect x="501.12" y="213.52" width="3.52" height="1.97" fill="#0073ff"/>
<rect x="501.12" y="215.44" width="3.52" height="1.97" fill="#5e00ff"/>
<rect x="501.12" y="217.36" width="3.52" height="1.97" fill="#d900ff"/>
<rect x="504.59" y="194.32" width="3.52" height="1.97" fill="#d900ff"/>
<rect x="504.59" y="196.24" width="3.52" height="1.97" fill="#5e00ff"/>
<rect x="504.59" y="198.16" width="3.52" height="1.97" fill="#0073ff"/>
<rect x="504.59" y="200.08" width="3.52" height="1.97" fill="#fbff00"/>
<rect x="504.59" y="202.00" width="3.52" height="1.97" fill="#fbff00"/>
<rect x="504.59" y="203.92" width="3.52" height="1.97" fill="#00ff1a"/>
<rect x="504.59" y="205.84" width="3.52" height="1.97" fill="#00ffd3"/>
<rect x="504.59" y="207.76" width="3.52" height="1.97" fill="#5e00ff"/>
<rect x="508.06" y="194.32" width="3.52" height="1.97" fill="#d900ff"/>
<rect x="508.06" y="196.24" width="3.52" height="1.97" fill="#5e00ff"/>
<rect x="508.06" y="198.16" width="3.52" height="1.97" fill="#0073ff"/>
<rect x="508.06" y="200.08" width="3.52" height="1.97" fill="#fbff00"/>
<rect x="508.06" y="202.00" width="3.52" height="1.97" fill="#fbff00"/>
<rect x="508.06" y="203.92" width="3.52" height="1.97" fill="#00ff1a"/>
<rect x="508.06" y="205.84" width="3.52" height="1.97" fill="#00ffd3"/>
<rect x="508.06" y="207.76" width="3.52" height="1.97" fill="#5e00ff"/>
<rect x="511.52" y="194.32" width="3.52" height="1.97" fill="#d900ff"/>
<rect x="511.52" y="196.24" width="3.52" height="1.97" fill="#5e00ff"/>
<rect x="511.52" y="198.16" width="3.52" height="1.97" fill="#0073ff"/>
<rect x="511.52" y="200.08" width="3.52" height="1.97" fill="#fbff00"/>
<rect x="511.52" y="202.00" width="3.52" height="1.97" fill="#fbff00"/>
<rect x="511.52" y="203.92" width="3.52" height="1.97" fill="#00ff1a"/>
<rect x="511.52" y="205.84" width="3.52" height="1.97" fill="#00ffd3"/>
<rect x="511.52" y="207.76" width="3.52" height="1.97" fill="#5e00ff"/>
<rect x="514.99" y="194.32" width="3.52" height="1.97" fill="#d900ff"/>
<rect x="514.99" y="196.24" width="3.52" height="1.97" fill="#5e00ff"/>
<rect x="514.99" y="198.16" width="3.52" height="1.97" fill="#0073ff"/>
<rect x="514.99" y="200.08" width="3.52" height="1.97" fill="#fbff00"/>
<rect x="514.99" y="202.00" width="3.52" height="1.97" fill="#fbff00"/>
<rect x="514.99" y="203.92" width="3.52" height="1.97" fill="#00ff1a"/>
<rect x="514.99" y="205.84" width="3.52" height="1.97" fill="#00ffd3"/>
<rect x="514.99" y="207.76" width="3.52" height="1.97" fill="#5e00ff"/>
<rect x="518.46" y="194.32" width="3.52" height="1.97" fill="#d900ff"/>
<rect x="518.46" y="196.24" width="3.52" height="1.97" fill="#5e00ff"/>
<rect x="518.46" y="198.16" width="3.52" height="1.97" fill="#0073ff"/>
<rect x="518.46" y="200.08" width="3.52" height="1.97" fill="#fbff00"/>
<rect x="518.46" y="202.00" width="3.52" height="1.97" fill="#fbff00"/>
<rect x="518.46" y="203.92" width="3.52" height="1.97" fill="#00ff1a"/>
<rect x="518.46" y="205.84" width="3.52" height="1.97" fill="#00ffd3"/>
<rect x="518.46" y="207.76" width="3.52" height="1.97" fill="#5e00ff"/>
<rect x="521.93" y="194.32" width="1.12" height="1.97" fill="#d900ff"/>
<rect x="521.93" y="196.24" width="1.12" height="1.97" fill="#5e00ff"/>
<rect x="521.93" y="198.16" width="1.12" height="1.97" fill="#0073ff"/>
<rect x="521.93" y="200.08" width="1.12" height="1.97" fill="#fbff00"/>
<rect x="521.93" y="202.00" width="1.12" height="1.97" fill="#fbff00"/>
<rect x="521.93" y="203.92" width="1.12" height="1.97" fill="#00ff1a"/>
<rect x="521.93" y="205.84" width="1.12" height="1.97" fill="#00ffd3"/>
<rect x="521.93" y="207.76" width="1.12" height="1.97" fill="#5e00ff"/>
</g>
<g stroke="#b0b0b0" stroke-width="1.11">
<path d="M105.5 48.0V336.0"/>
<path d="M121.5 48.0V336.0"/>
<path d="M132.5 48.0V336.0"/>
<path d="M141.5 48.0V336.0"/>
<path d="M149.5 48.0V336.0"/>
<path d="M155.5 48.0V336.0"/>
<path d="M160.5 48.0V336.0"/>
<path d="M165.5 48.0V336.0"/>
<path d="M169.5 48.0V336.0"/>
<path d="M197.5 48.0V336.0"/>
<path d="M213.5 48.0V336.0"/>
<path d="M224.5 48.0V336.0"/>
<path d="M233.5 48.0V336.0"/>
<path d="M241.5 48.0V336.0"/>
<path d="M247.5 48.0V336.0"/>
<path d="M252.5 48.0V336.0"/>
<path d="M257.5 48.0V336.0"/>
<path d="M261.5 48.0V336.0"/>
<path d="M289.5 48.0V336.0"/>
<path d="M305.5 48.0V336.0"/>
<path d="M317.5 48.0V336.0"/>
<path d="M326.5 48.0V336.0"/>
<path d="M333.5 48.0V336.0"/>
<path d="M339.5 48.0V336.0"/>
<path d="M344.5 48.0V336.0"/>
<path d="M349.5 48.0V336.0"/>
<path d="M353.5 48.0V336.0"/>
<path d="M381.5 48.0V336.0"/>
<path d="M397.5 48.0V336.0"/>
<path d="M409.5 48.0V336.0"/>
<path d="M418.5 48.0V336.0"/>
<path d="M425.5 48.0V336.0"/>
<path d="M431.5 48.0V336.0"/>
<path d="M437.5 48.0V336.0"/>
<path d="M441.5 48.0V336.0"/>
<path d="M445.5 48.0V336.0"/>
<path d="M473.5 48.0V336.0"/>
<path d="M489.5 48.0V336.0"/>
<path d="M501.5 48.0V336.0"/>
<path d="M510.5 48.0V336.0"/>
<path d="M517.5 48.0V336.0"/>
<path d="M523.5 48.0V336.0"/>
<path d="M529.5 48.0V336.0"/>
<path d="M533.5 48.0V336.0"/>
<path d="M76.8 298.5H538.2"/>
<path d="M76.8 259.5H538.2"/>
<path d="M76.8 221.5H538.2"/>
<path d="M76.8 182.5H538.2"/>
<path d="M76.8 144.5H538.2"/>
<path d="M76.8 106.5H538.2"/>
<path d="M76.8 67.5H538.2"/>
</g>
<clipPath id="cp"><rect x="76.8" y="48.0" width="460.8" height="288.0"/></clipPath>
<g clip-path="url(#cp)" fill="none" stroke="#666666" stroke-width="2.78" stroke-linejoin="round" stroke-linecap="square">
<path d="M168.96 274.56L190.20 272.06L224.45 272.06L252.19 276.87L269.73 266.30L296.16 237.40L319.50 222.91L325.54 222.90L332.83 238.08L353.28 266.40L360.58 271.19L371.08 263.29L384.66 292.81L399.33 307.19L413.48 312.00L431.16 312.00L445.84 307.20L462.72 307.18L492.98 311.98L517.15 306.01L537.60 294.68"/>
<path d="M168.96 127.68L200.52 139.01L215.51 164.17L252.19 182.39L314.55 140.16L322.20 137.27L334.79 145.92L343.85 169.92L370.56 182.39L381.02 217.92L496.13 193.91L537.60 166.60"/>
</g>
<path d="M104.00 225.60L105.80 223.20L107.50 221.40L111.25 218.80L115.00 217.10L118.75 215.60L120.80 211.30L123.30 205.30L125.60 203.30L128.75 202.50L132.50 203.10L137.50 204.60L143.75 205.90L150.00 206.50L156.25 206.75L162.50 206.75L170.00 206.50L180.00 206.00L187.50 205.40L193.75 204.00L198.75 202.90L205.00 202.10L212.50 201.90L220.00 202.25L227.50 203.00L235.00 203.75L242.50 205.25L250.00 207.25L255.00 208.50L260.00 209.40L263.00 209.30L267.50 208.10L272.50 206.90L278.75 205.00L285.00 203.10L290.00 202.10L293.75 201.90L297.50 201.80L302.50 201.00L307.50 199.30L312.50 196.00L317.50 192.50L322.50 188.75L326.25 186.90L330.00 186.25L333.40 186.70L336.25 188.75L339.40 192.50L342.50 196.90L345.60 201.25L348.75 206.25L351.90 211.90L355.00 218.10L357.50 223.75L360.00 228.75L362.50 233.10L365.00 236.25L368.75 239.00L372.50 240.60L377.50 242.10L382.50 243.10L387.50 243.75L391.25 243.30L394.00 242.30L397.25 241.10L403.25 239.25L409.25 237.75L414.50 236.25L417.50 235.10L422.00 232.30L425.75 231.00L431.00 229.50L437.00 228.00L440.40 226.90L443.90 225.20L447.40 223.80L450.80 222.70L454.30 222.50L457.80 221.40L461.20 221.20L464.70 218.80L468.20 218.60L471.60 217.40L475.10 217.10L478.60 213.00L489.00 212.90L492.50 210.20L502.90 210.10L506.30 202.40L520.60 202.40" fill="none" stroke="#000" stroke-width="2.08" stroke-linejoin="round" stroke-linecap="square"/>
<g stroke="#000" fill="none">
<rect x="77.5" y="48.5" width="461.0" height="288.0" stroke-width="1.11"/>
<path d="M77.5 336.0v5.3M169.5 336.0v5.3M261.5 336.0v5.3M353.5 336.0v5.3M445.5 336.0v5.3M538.5 336.0v5.3M76.8 336.5h-5.0M76.8 298.5h-5.0M76.8 259.5h-5.0M76.8 221.5h-5.0M76.8 182.5h-5.0M76.8 144.5h-5.0M76.8 106.5h-5.0M76.8 67.5h-5.0" stroke-width="1.11"/>
<path d="M105.5 336.0v2.78M121.5 336.0v2.78M132.5 336.0v2.78M141.5 336.0v2.78M149.5 336.0v2.78M155.5 336.0v2.78M160.5 336.0v2.78M165.5 336.0v2.78M197.5 336.0v2.78M213.5 336.0v2.78M224.5 336.0v2.78M233.5 336.0v2.78M241.5 336.0v2.78M247.5 336.0v2.78M252.5 336.0v2.78M257.5 336.0v2.78M289.5 336.0v2.78M305.5 336.0v2.78M317.5 336.0v2.78M326.5 336.0v2.78M333.5 336.0v2.78M339.5 336.0v2.78M344.5 336.0v2.78M349.5 336.0v2.78M381.5 336.0v2.78M397.5 336.0v2.78M409.5 336.0v2.78M418.5 336.0v2.78M425.5 336.0v2.78M431.5 336.0v2.78M437.5 336.0v2.78M441.5 336.0v2.78M473.5 336.0v2.78M489.5 336.0v2.78M501.5 336.0v2.78M510.5 336.0v2.78M517.5 336.0v2.78M523.5 336.0v2.78M529.5 336.0v2.78M533.5 336.0v2.78" stroke-width="0.83"/>
</g>
<g font-size="13.89px">
<text x="76.80" y="356.7" text-anchor="middle">0.01</text>
<text x="168.96" y="356.7" text-anchor="middle">0.1</text>
<text x="261.12" y="356.7" text-anchor="middle">1</text>
<text x="353.28" y="356.7" text-anchor="middle">10</text>
<text x="445.44" y="356.7" text-anchor="middle">100</text>
<text x="537.60" y="356.7" text-anchor="middle">1000</text>
<text x="67.1" y="341.30" text-anchor="end">−200</text>
<text x="67.1" y="302.90" text-anchor="end">−180</text>
<text x="67.1" y="264.50" text-anchor="end">−160</text>
<text x="67.1" y="226.10" text-anchor="end">−140</text>
<text x="67.1" y="187.70" text-anchor="end">−120</text>
<text x="67.1" y="149.30" text-anchor="end">−100</text>
<text x="67.1" y="110.90" text-anchor="end">−80</text>
<text x="67.1" y="72.50" text-anchor="end">−60</text>
<text x="307.2" y="375.9" text-anchor="middle">Period [s]</text>
<text transform="translate(16.7 192) rotate(-90)" text-anchor="middle" textLength="152.6" lengthAdjust="spacing">Power [<tspan font-style="oblique">m</tspan><tspan font-size="9.72px" dy="-5.3">2</tspan><tspan dy="5.3" font-style="oblique">/s</tspan><tspan font-size="9.72px" dy="-5.3">4</tspan><tspan dy="5.3" font-style="oblique">/Hz</tspan>] [dB]</text>
</g>
<g font-size="12.5px" text-anchor="middle" style="white-space:pre">
<text x="305.4" y="9.7" xml:space="preserve">BK.BK67.00.HHE   2018-11-12 -- 2018-11-12  (46/46 segments)</text>
<text x="307.2" y="24.6">sensor_type CMG-3T sensor_sn T310003</text>
<text x="306.8" y="39.5">datalogger_type GuralpMinimus+ datalogger_sn MINP-E059</text>
</g>
<defs><linearGradient id="cb" x1="0" y1="1" x2="0" y2="0">
<stop offset="0.0" stop-color="#ffffff"/>
<stop offset="0.05" stop-color="#ff00ff"/>
<stop offset="0.2" stop-color="#0000ff"/>
<stop offset="0.4" stop-color="#00ffff"/>
<stop offset="0.6" stop-color="#00ff00"/>
<stop offset="0.8" stop-color="#ffff00"/>
<stop offset="1.0" stop-color="#ff0000"/>
</linearGradient></defs>
<rect x="566.4" y="234.2" width="5.1" height="102.3" fill="url(#cb)"/>
<rect x="566.5" y="234.5" width="5" height="102" fill="none" stroke="#000" stroke-width="1.11"/>
<text x="590.9" y="342.20" font-size="13.89px">0</text>
<text x="590.9" y="325.23" font-size="13.89px">5</text>
<text x="590.9" y="308.27" font-size="13.89px">10</text>
<text x="590.9" y="291.30" font-size="13.89px">15</text>
<text x="590.9" y="274.33" font-size="13.89px">20</text>
<text x="590.9" y="257.37" font-size="13.89px">25</text>
<text x="590.9" y="240.40" font-size="13.89px">30</text>
<path d="M581.4 336.5h4.86M581.4 319.5h4.86M581.4 302.5h4.86M581.4 285.5h4.86M581.4 268.5h4.86M581.4 251.5h4.86M581.4 234.5h4.86" stroke="#000" stroke-width="1.11"/>
<text transform="translate(624.7 194.4) rotate(-90)" text-anchor="middle" font-size="13.89px">[%]</text>
<rect x="116" y="379.2" width="408" height="7.7" fill="#008000" shape-rendering="crispEdges"/>
<rect x="116" y="386.9" width="399" height="11.5" fill="#0000ff" shape-rendering="crispEdges"/>
<rect x="96.5" y="379.5" width="448" height="19" fill="none" stroke="#000" stroke-width="1.11"/>
<path d="M116.5 398.4v5.2M167.5 398.4v5.2M218.5 398.4v5.2M269.5 398.4v5.2M320.5 398.4v5.2M371.5 398.4v5.2M422.5 398.4v5.2M473.5 398.4v5.2M524.5 398.4v5.2" stroke="#000" stroke-width="1.11"/>
<text transform="translate(60.46 449.25) rotate(-30)" font-size="13.89px">11-12 00</text>
<text transform="translate(111.46 449.25) rotate(-30)" font-size="13.89px">11-12 03</text>
<text transform="translate(162.46 449.25) rotate(-30)" font-size="13.89px">11-12 06</text>
<text transform="translate(213.46 449.25) rotate(-30)" font-size="13.89px">11-12 09</text>
<text transform="translate(264.46 449.25) rotate(-30)" font-size="13.89px">11-12 12</text>
<text transform="translate(315.46 449.25) rotate(-30)" font-size="13.89px">11-12 15</text>
<text transform="translate(366.46 449.25) rotate(-30)" font-size="13.89px">11-12 18</text>
<text transform="translate(417.46 449.25) rotate(-30)" font-size="13.89px">11-12 21</text>
<text transform="translate(468.46 449.25) rotate(-30)" font-size="13.89px">11-13 00</text>
</svg></body></html>
